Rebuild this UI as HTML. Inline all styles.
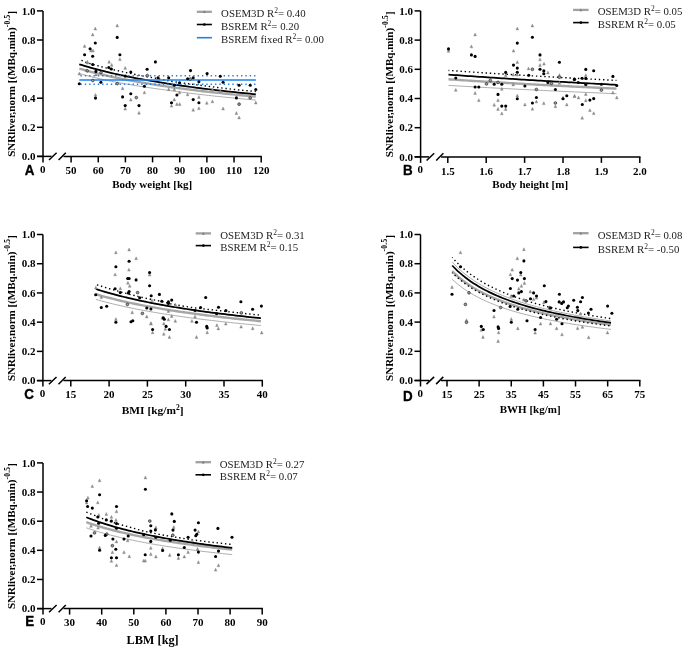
<!DOCTYPE html>
<html><head><meta charset="utf-8"><style>
html,body{margin:0;padding:0;background:#fff;width:685px;height:651px;overflow:hidden}
svg{display:block;will-change:transform;filter:blur(0.3px)}
</style></head><body>
<svg width="685" height="651" viewBox="0 0 685 651"><path d="M43.0 10.90V162.40" stroke="#000" stroke-width="1.5" fill="none"/>
<path d="M37.00 156.40H43.0" stroke="#000" stroke-width="1.5"/>
<text x="35.50" y="160.10" text-anchor="end" font-family='"Liberation Serif", serif' font-weight="bold" font-size="11">0.0</text>
<path d="M37.00 127.30H43.0" stroke="#000" stroke-width="1.5"/>
<text x="35.50" y="131.00" text-anchor="end" font-family='"Liberation Serif", serif' font-weight="bold" font-size="11">0.2</text>
<path d="M37.00 98.20H43.0" stroke="#000" stroke-width="1.5"/>
<text x="35.50" y="101.90" text-anchor="end" font-family='"Liberation Serif", serif' font-weight="bold" font-size="11">0.4</text>
<path d="M37.00 69.10H43.0" stroke="#000" stroke-width="1.5"/>
<text x="35.50" y="72.80" text-anchor="end" font-family='"Liberation Serif", serif' font-weight="bold" font-size="11">0.6</text>
<path d="M37.00 40.00H43.0" stroke="#000" stroke-width="1.5"/>
<text x="35.50" y="43.70" text-anchor="end" font-family='"Liberation Serif", serif' font-weight="bold" font-size="11">0.8</text>
<path d="M37.00 10.90H43.0" stroke="#000" stroke-width="1.5"/>
<text x="35.50" y="14.60" text-anchor="end" font-family='"Liberation Serif", serif' font-weight="bold" font-size="11">1.0</text>
<path d="M37.00 156.40H51.50" stroke="#000" stroke-width="1.5"/>
<path d="M49.00 160.00L56.60 152.80" stroke="#000" stroke-width="1.5"/>
<path d="M58.60 160.00L65.80 152.80" stroke="#000" stroke-width="1.5"/>
<path d="M63.50 156.40H261.90" stroke="#000" stroke-width="1.5"/>
<text x="42.70" y="172.60" text-anchor="middle" font-family='"Liberation Serif", serif' font-weight="bold" font-size="11">0</text>
<path d="M71.10 156.40V162.40" stroke="#000" stroke-width="1.5"/>
<text x="71.10" y="174.00" text-anchor="middle" font-family='"Liberation Serif", serif' font-weight="bold" font-size="11">50</text>
<path d="M98.26 156.40V162.40" stroke="#000" stroke-width="1.5"/>
<text x="98.26" y="174.00" text-anchor="middle" font-family='"Liberation Serif", serif' font-weight="bold" font-size="11">60</text>
<path d="M125.41 156.40V162.40" stroke="#000" stroke-width="1.5"/>
<text x="125.41" y="174.00" text-anchor="middle" font-family='"Liberation Serif", serif' font-weight="bold" font-size="11">70</text>
<path d="M152.57 156.40V162.40" stroke="#000" stroke-width="1.5"/>
<text x="152.57" y="174.00" text-anchor="middle" font-family='"Liberation Serif", serif' font-weight="bold" font-size="11">80</text>
<path d="M179.73 156.40V162.40" stroke="#000" stroke-width="1.5"/>
<text x="179.73" y="174.00" text-anchor="middle" font-family='"Liberation Serif", serif' font-weight="bold" font-size="11">90</text>
<path d="M206.89 156.40V162.40" stroke="#000" stroke-width="1.5"/>
<text x="206.89" y="174.00" text-anchor="middle" font-family='"Liberation Serif", serif' font-weight="bold" font-size="11">100</text>
<path d="M234.04 156.40V162.40" stroke="#000" stroke-width="1.5"/>
<text x="234.04" y="174.00" text-anchor="middle" font-family='"Liberation Serif", serif' font-weight="bold" font-size="11">110</text>
<path d="M261.20 156.40V162.40" stroke="#000" stroke-width="1.5"/>
<text x="261.20" y="174.00" text-anchor="middle" font-family='"Liberation Serif", serif' font-weight="bold" font-size="11">120</text>
<text x="152.20" y="187.60" text-anchor="middle" font-family='"Liberation Serif", serif' font-weight="bold" font-size="11">Body weight [kg]</text>
<text transform="translate(34.50,175.00) scale(0.9,1)" text-anchor="end" font-family='"Liberation Sans", sans-serif' font-weight="bold" font-size="14.9" stroke="#000" stroke-width="0.35">A</text>
<text transform="translate(15.20,156.80) rotate(-90)" font-family='"Liberation Serif", serif' font-weight="bold" font-size="11.0">SNRliver,norm [(MBq.min)<tspan dy="-5.3" font-size="7.4" letter-spacing="0.3">-0.5</tspan><tspan dy="5.3">]</tspan></text>
<path d="M196.8 11.8H211.9" stroke="#a0a0a0" stroke-width="2.3"/>
<path d="M203.05 13.10L204.35 10.30L205.65 13.10Z" fill="#7a7a7a"/>
<text x="221.1" y="17.30" font-family='"Liberation Serif", serif' font-size="10.8" fill="#222">OSEM3D R<tspan dy="-4" font-size="7.5">2</tspan><tspan dy="4">= 0.40</tspan></text>
<path d="M196.8 24.5H211.9" stroke="#000" stroke-width="1.6"/>
<circle cx="204.35" cy="24.5" r="1.35" fill="#000"/>
<text x="221.1" y="30.00" font-family='"Liberation Serif", serif' font-size="10.8" fill="#222">BSREM R<tspan dy="-4" font-size="7.5">2</tspan><tspan dy="4">= 0.20</tspan></text>
<path d="M196.8 37.7H211.9" stroke="#1f80e8" stroke-width="1.6"/>
<text x="221.1" y="43.20" font-family='"Liberation Serif", serif' font-size="10.8" fill="#222">BSREM fixed R<tspan dy="-4" font-size="7.5">2</tspan><tspan dy="4">= 0.00</tspan></text>
<path d="M420.6 10.90V162.90" stroke="#000" stroke-width="1.5" fill="none"/>
<path d="M414.60 156.90H420.6" stroke="#000" stroke-width="1.5"/>
<text x="413.10" y="160.60" text-anchor="end" font-family='"Liberation Serif", serif' font-weight="bold" font-size="11">0.0</text>
<path d="M414.60 127.70H420.6" stroke="#000" stroke-width="1.5"/>
<text x="413.10" y="131.40" text-anchor="end" font-family='"Liberation Serif", serif' font-weight="bold" font-size="11">0.2</text>
<path d="M414.60 98.50H420.6" stroke="#000" stroke-width="1.5"/>
<text x="413.10" y="102.20" text-anchor="end" font-family='"Liberation Serif", serif' font-weight="bold" font-size="11">0.4</text>
<path d="M414.60 69.30H420.6" stroke="#000" stroke-width="1.5"/>
<text x="413.10" y="73.00" text-anchor="end" font-family='"Liberation Serif", serif' font-weight="bold" font-size="11">0.6</text>
<path d="M414.60 40.10H420.6" stroke="#000" stroke-width="1.5"/>
<text x="413.10" y="43.80" text-anchor="end" font-family='"Liberation Serif", serif' font-weight="bold" font-size="11">0.8</text>
<path d="M414.60 10.90H420.6" stroke="#000" stroke-width="1.5"/>
<text x="413.10" y="14.60" text-anchor="end" font-family='"Liberation Serif", serif' font-weight="bold" font-size="11">1.0</text>
<path d="M414.60 156.90H429.10" stroke="#000" stroke-width="1.5"/>
<path d="M426.60 160.50L434.20 153.30" stroke="#000" stroke-width="1.5"/>
<path d="M436.20 160.50L443.40 153.30" stroke="#000" stroke-width="1.5"/>
<path d="M441.10 156.90H640.50" stroke="#000" stroke-width="1.5"/>
<text x="420.30" y="173.10" text-anchor="middle" font-family='"Liberation Serif", serif' font-weight="bold" font-size="11">0</text>
<path d="M447.80 156.90V162.90" stroke="#000" stroke-width="1.5"/>
<text x="447.80" y="174.50" text-anchor="middle" font-family='"Liberation Serif", serif' font-weight="bold" font-size="11">1.5</text>
<path d="M486.20 156.90V162.90" stroke="#000" stroke-width="1.5"/>
<text x="486.20" y="174.50" text-anchor="middle" font-family='"Liberation Serif", serif' font-weight="bold" font-size="11">1.6</text>
<path d="M524.60 156.90V162.90" stroke="#000" stroke-width="1.5"/>
<text x="524.60" y="174.50" text-anchor="middle" font-family='"Liberation Serif", serif' font-weight="bold" font-size="11">1.7</text>
<path d="M563.00 156.90V162.90" stroke="#000" stroke-width="1.5"/>
<text x="563.00" y="174.50" text-anchor="middle" font-family='"Liberation Serif", serif' font-weight="bold" font-size="11">1.8</text>
<path d="M601.40 156.90V162.90" stroke="#000" stroke-width="1.5"/>
<text x="601.40" y="174.50" text-anchor="middle" font-family='"Liberation Serif", serif' font-weight="bold" font-size="11">1.9</text>
<path d="M639.80 156.90V162.90" stroke="#000" stroke-width="1.5"/>
<text x="639.80" y="174.50" text-anchor="middle" font-family='"Liberation Serif", serif' font-weight="bold" font-size="11">2.0</text>
<text x="530.20" y="188.40" text-anchor="middle" font-family='"Liberation Serif", serif' font-weight="bold" font-size="11">Body height [m]</text>
<text transform="translate(412.60,174.60) scale(0.9,1)" text-anchor="end" font-family='"Liberation Sans", sans-serif' font-weight="bold" font-size="14.9" stroke="#000" stroke-width="0.35">B</text>
<text transform="translate(392.80,157.30) rotate(-90)" font-family='"Liberation Serif", serif' font-weight="bold" font-size="11.0">SNRliver,norm [(MBq.min)<tspan dy="-5.3" font-size="7.4" letter-spacing="0.3">-0.5</tspan><tspan dy="5.3">]</tspan></text>
<path d="M573.1 9.9H588.6" stroke="#a0a0a0" stroke-width="2.3"/>
<path d="M579.55 11.20L580.85 8.40L582.15 11.20Z" fill="#7a7a7a"/>
<text x="597.8" y="15.40" font-family='"Liberation Serif", serif' font-size="10.8" fill="#222">OSEM3D R<tspan dy="-4" font-size="7.5">2</tspan><tspan dy="4">= 0.05</tspan></text>
<path d="M573.1 22.6H588.6" stroke="#000" stroke-width="1.6"/>
<circle cx="580.85" cy="22.6" r="1.35" fill="#000"/>
<text x="597.8" y="28.10" font-family='"Liberation Serif", serif' font-size="10.8" fill="#222">BSREM R<tspan dy="-4" font-size="7.5">2</tspan><tspan dy="4">= 0.05</tspan></text>
<path d="M42.9 234.50V386.60" stroke="#000" stroke-width="1.5" fill="none"/>
<path d="M36.90 380.60H42.9" stroke="#000" stroke-width="1.5"/>
<text x="35.40" y="384.30" text-anchor="end" font-family='"Liberation Serif", serif' font-weight="bold" font-size="11">0.0</text>
<path d="M36.90 351.38H42.9" stroke="#000" stroke-width="1.5"/>
<text x="35.40" y="355.08" text-anchor="end" font-family='"Liberation Serif", serif' font-weight="bold" font-size="11">0.2</text>
<path d="M36.90 322.16H42.9" stroke="#000" stroke-width="1.5"/>
<text x="35.40" y="325.86" text-anchor="end" font-family='"Liberation Serif", serif' font-weight="bold" font-size="11">0.4</text>
<path d="M36.90 292.94H42.9" stroke="#000" stroke-width="1.5"/>
<text x="35.40" y="296.64" text-anchor="end" font-family='"Liberation Serif", serif' font-weight="bold" font-size="11">0.6</text>
<path d="M36.90 263.72H42.9" stroke="#000" stroke-width="1.5"/>
<text x="35.40" y="267.42" text-anchor="end" font-family='"Liberation Serif", serif' font-weight="bold" font-size="11">0.8</text>
<path d="M36.90 234.50H42.9" stroke="#000" stroke-width="1.5"/>
<text x="35.40" y="238.20" text-anchor="end" font-family='"Liberation Serif", serif' font-weight="bold" font-size="11">1.0</text>
<path d="M36.90 380.60H51.40" stroke="#000" stroke-width="1.5"/>
<path d="M48.90 384.20L56.50 377.00" stroke="#000" stroke-width="1.5"/>
<path d="M58.50 384.20L65.70 377.00" stroke="#000" stroke-width="1.5"/>
<path d="M63.40 380.60H263.00" stroke="#000" stroke-width="1.5"/>
<text x="42.60" y="396.80" text-anchor="middle" font-family='"Liberation Serif", serif' font-weight="bold" font-size="11">0</text>
<path d="M70.80 380.60V386.60" stroke="#000" stroke-width="1.5"/>
<text x="70.80" y="398.20" text-anchor="middle" font-family='"Liberation Serif", serif' font-weight="bold" font-size="11">15</text>
<path d="M109.10 380.60V386.60" stroke="#000" stroke-width="1.5"/>
<text x="109.10" y="398.20" text-anchor="middle" font-family='"Liberation Serif", serif' font-weight="bold" font-size="11">20</text>
<path d="M147.40 380.60V386.60" stroke="#000" stroke-width="1.5"/>
<text x="147.40" y="398.20" text-anchor="middle" font-family='"Liberation Serif", serif' font-weight="bold" font-size="11">25</text>
<path d="M185.70 380.60V386.60" stroke="#000" stroke-width="1.5"/>
<text x="185.70" y="398.20" text-anchor="middle" font-family='"Liberation Serif", serif' font-weight="bold" font-size="11">30</text>
<path d="M224.00 380.60V386.60" stroke="#000" stroke-width="1.5"/>
<text x="224.00" y="398.20" text-anchor="middle" font-family='"Liberation Serif", serif' font-weight="bold" font-size="11">35</text>
<path d="M262.30 380.60V386.60" stroke="#000" stroke-width="1.5"/>
<text x="262.30" y="398.20" text-anchor="middle" font-family='"Liberation Serif", serif' font-weight="bold" font-size="11">40</text>
<text x="152.60" y="413.90" text-anchor="middle" font-family='"Liberation Serif", serif' font-weight="bold" font-size="11.4">BMI [kg/m<tspan dy="-4" font-size="7.5">2</tspan><tspan dy="4">]</tspan></text>
<text transform="translate(34.00,398.60) scale(0.9,1)" text-anchor="end" font-family='"Liberation Sans", sans-serif' font-weight="bold" font-size="14.9" stroke="#000" stroke-width="0.35">C</text>
<text transform="translate(15.10,381.00) rotate(-90)" font-family='"Liberation Serif", serif' font-weight="bold" font-size="11.0">SNRliver,norm [(MBq.min)<tspan dy="-5.3" font-size="7.4" letter-spacing="0.3">-0.5</tspan><tspan dy="5.3">]</tspan></text>
<path d="M195.7 233.4H211.0" stroke="#a0a0a0" stroke-width="2.3"/>
<path d="M202.05 234.70L203.35 231.90L204.65 234.70Z" fill="#7a7a7a"/>
<text x="220.2" y="238.90" font-family='"Liberation Serif", serif' font-size="10.8" fill="#222">OSEM3D R<tspan dy="-4" font-size="7.5">2</tspan><tspan dy="4">= 0.31</tspan></text>
<path d="M195.7 245.6H211.0" stroke="#000" stroke-width="1.6"/>
<circle cx="203.35" cy="245.6" r="1.35" fill="#000"/>
<text x="220.2" y="251.10" font-family='"Liberation Serif", serif' font-size="10.8" fill="#222">BSREM R<tspan dy="-4" font-size="7.5">2</tspan><tspan dy="4">= 0.15</tspan></text>
<path d="M420.5 234.50V386.50" stroke="#000" stroke-width="1.5" fill="none"/>
<path d="M414.50 380.50H420.5" stroke="#000" stroke-width="1.5"/>
<text x="413.00" y="384.20" text-anchor="end" font-family='"Liberation Serif", serif' font-weight="bold" font-size="11">0.0</text>
<path d="M414.50 351.30H420.5" stroke="#000" stroke-width="1.5"/>
<text x="413.00" y="355.00" text-anchor="end" font-family='"Liberation Serif", serif' font-weight="bold" font-size="11">0.2</text>
<path d="M414.50 322.10H420.5" stroke="#000" stroke-width="1.5"/>
<text x="413.00" y="325.80" text-anchor="end" font-family='"Liberation Serif", serif' font-weight="bold" font-size="11">0.4</text>
<path d="M414.50 292.90H420.5" stroke="#000" stroke-width="1.5"/>
<text x="413.00" y="296.60" text-anchor="end" font-family='"Liberation Serif", serif' font-weight="bold" font-size="11">0.6</text>
<path d="M414.50 263.70H420.5" stroke="#000" stroke-width="1.5"/>
<text x="413.00" y="267.40" text-anchor="end" font-family='"Liberation Serif", serif' font-weight="bold" font-size="11">0.8</text>
<path d="M414.50 234.50H420.5" stroke="#000" stroke-width="1.5"/>
<text x="413.00" y="238.20" text-anchor="end" font-family='"Liberation Serif", serif' font-weight="bold" font-size="11">1.0</text>
<path d="M414.50 380.50H429.00" stroke="#000" stroke-width="1.5"/>
<path d="M426.50 384.10L434.10 376.90" stroke="#000" stroke-width="1.5"/>
<path d="M436.10 384.10L443.30 376.90" stroke="#000" stroke-width="1.5"/>
<path d="M441.00 380.50H640.50" stroke="#000" stroke-width="1.5"/>
<text x="420.20" y="396.70" text-anchor="middle" font-family='"Liberation Serif", serif' font-weight="bold" font-size="11">0</text>
<path d="M447.00 380.50V386.50" stroke="#000" stroke-width="1.5"/>
<text x="447.00" y="398.10" text-anchor="middle" font-family='"Liberation Serif", serif' font-weight="bold" font-size="11">15</text>
<path d="M479.13 380.50V386.50" stroke="#000" stroke-width="1.5"/>
<text x="479.13" y="398.10" text-anchor="middle" font-family='"Liberation Serif", serif' font-weight="bold" font-size="11">25</text>
<path d="M511.27 380.50V386.50" stroke="#000" stroke-width="1.5"/>
<text x="511.27" y="398.10" text-anchor="middle" font-family='"Liberation Serif", serif' font-weight="bold" font-size="11">35</text>
<path d="M543.40 380.50V386.50" stroke="#000" stroke-width="1.5"/>
<text x="543.40" y="398.10" text-anchor="middle" font-family='"Liberation Serif", serif' font-weight="bold" font-size="11">45</text>
<path d="M575.53 380.50V386.50" stroke="#000" stroke-width="1.5"/>
<text x="575.53" y="398.10" text-anchor="middle" font-family='"Liberation Serif", serif' font-weight="bold" font-size="11">55</text>
<path d="M607.67 380.50V386.50" stroke="#000" stroke-width="1.5"/>
<text x="607.67" y="398.10" text-anchor="middle" font-family='"Liberation Serif", serif' font-weight="bold" font-size="11">65</text>
<path d="M639.80 380.50V386.50" stroke="#000" stroke-width="1.5"/>
<text x="639.80" y="398.10" text-anchor="middle" font-family='"Liberation Serif", serif' font-weight="bold" font-size="11">75</text>
<text x="530.15" y="412.90" text-anchor="middle" font-family='"Liberation Serif", serif' font-weight="bold" font-size="11">BWH [kg/m]</text>
<text transform="translate(412.60,400.50) scale(0.9,1)" text-anchor="end" font-family='"Liberation Sans", sans-serif' font-weight="bold" font-size="14.9" stroke="#000" stroke-width="0.35">D</text>
<text transform="translate(392.70,380.90) rotate(-90)" font-family='"Liberation Serif", serif' font-weight="bold" font-size="11.0">SNRliver,norm [(MBq.min)<tspan dy="-5.3" font-size="7.4" letter-spacing="0.3">-0.5</tspan><tspan dy="5.3">]</tspan></text>
<path d="M573.1 233.2H588.6" stroke="#a0a0a0" stroke-width="2.3"/>
<path d="M579.55 234.50L580.85 231.70L582.15 234.50Z" fill="#7a7a7a"/>
<text x="597.8" y="238.70" font-family='"Liberation Serif", serif' font-size="10.8" fill="#222">OSEM3D R<tspan dy="-4" font-size="7.5">2</tspan><tspan dy="4">= 0.08</tspan></text>
<path d="M573.1 247.4H588.6" stroke="#000" stroke-width="1.6"/>
<circle cx="580.85" cy="247.4" r="1.35" fill="#000"/>
<text x="597.8" y="252.90" font-family='"Liberation Serif", serif' font-size="10.8" fill="#222">BSREM R<tspan dy="-4" font-size="7.5">2</tspan><tspan dy="4">= -0.50</tspan></text>
<path d="M43.0 462.90V614.60" stroke="#000" stroke-width="1.5" fill="none"/>
<path d="M37.00 608.60H43.0" stroke="#000" stroke-width="1.5"/>
<text x="35.50" y="612.30" text-anchor="end" font-family='"Liberation Serif", serif' font-weight="bold" font-size="11">0.0</text>
<path d="M37.00 579.46H43.0" stroke="#000" stroke-width="1.5"/>
<text x="35.50" y="583.16" text-anchor="end" font-family='"Liberation Serif", serif' font-weight="bold" font-size="11">0.2</text>
<path d="M37.00 550.32H43.0" stroke="#000" stroke-width="1.5"/>
<text x="35.50" y="554.02" text-anchor="end" font-family='"Liberation Serif", serif' font-weight="bold" font-size="11">0.4</text>
<path d="M37.00 521.18H43.0" stroke="#000" stroke-width="1.5"/>
<text x="35.50" y="524.88" text-anchor="end" font-family='"Liberation Serif", serif' font-weight="bold" font-size="11">0.6</text>
<path d="M37.00 492.04H43.0" stroke="#000" stroke-width="1.5"/>
<text x="35.50" y="495.74" text-anchor="end" font-family='"Liberation Serif", serif' font-weight="bold" font-size="11">0.8</text>
<path d="M37.00 462.90H43.0" stroke="#000" stroke-width="1.5"/>
<text x="35.50" y="466.60" text-anchor="end" font-family='"Liberation Serif", serif' font-weight="bold" font-size="11">1.0</text>
<path d="M37.00 608.60H51.50" stroke="#000" stroke-width="1.5"/>
<path d="M49.00 612.20L56.60 605.00" stroke="#000" stroke-width="1.5"/>
<path d="M58.60 612.20L65.80 605.00" stroke="#000" stroke-width="1.5"/>
<path d="M63.50 608.60H262.90" stroke="#000" stroke-width="1.5"/>
<text x="42.70" y="624.80" text-anchor="middle" font-family='"Liberation Serif", serif' font-weight="bold" font-size="11">0</text>
<path d="M69.60 608.60V614.60" stroke="#000" stroke-width="1.5"/>
<text x="69.60" y="626.20" text-anchor="middle" font-family='"Liberation Serif", serif' font-weight="bold" font-size="11">30</text>
<path d="M101.70 608.60V614.60" stroke="#000" stroke-width="1.5"/>
<text x="101.70" y="626.20" text-anchor="middle" font-family='"Liberation Serif", serif' font-weight="bold" font-size="11">40</text>
<path d="M133.80 608.60V614.60" stroke="#000" stroke-width="1.5"/>
<text x="133.80" y="626.20" text-anchor="middle" font-family='"Liberation Serif", serif' font-weight="bold" font-size="11">50</text>
<path d="M165.90 608.60V614.60" stroke="#000" stroke-width="1.5"/>
<text x="165.90" y="626.20" text-anchor="middle" font-family='"Liberation Serif", serif' font-weight="bold" font-size="11">60</text>
<path d="M198.00 608.60V614.60" stroke="#000" stroke-width="1.5"/>
<text x="198.00" y="626.20" text-anchor="middle" font-family='"Liberation Serif", serif' font-weight="bold" font-size="11">70</text>
<path d="M230.10 608.60V614.60" stroke="#000" stroke-width="1.5"/>
<text x="230.10" y="626.20" text-anchor="middle" font-family='"Liberation Serif", serif' font-weight="bold" font-size="11">80</text>
<path d="M262.20 608.60V614.60" stroke="#000" stroke-width="1.5"/>
<text x="262.20" y="626.20" text-anchor="middle" font-family='"Liberation Serif", serif' font-weight="bold" font-size="11">90</text>
<text x="152.60" y="644.20" text-anchor="middle" font-family='"Liberation Serif", serif' font-weight="bold" font-size="12.3">LBM [kg]</text>
<text transform="translate(34.20,626.20) scale(0.9,1)" text-anchor="end" font-family='"Liberation Sans", sans-serif' font-weight="bold" font-size="14.9" stroke="#000" stroke-width="0.35">E</text>
<text transform="translate(15.20,609.00) rotate(-90)" font-family='"Liberation Serif", serif' font-weight="bold" font-size="11.0">SNRliver,norm [(MBq.min)<tspan dy="-5.3" font-size="7.4" letter-spacing="0.3">-0.5</tspan><tspan dy="5.3">]</tspan></text>
<path d="M195.5 462.2H211.0" stroke="#a0a0a0" stroke-width="2.3"/>
<path d="M201.95 463.50L203.25 460.70L204.55 463.50Z" fill="#7a7a7a"/>
<text x="219.8" y="467.70" font-family='"Liberation Serif", serif' font-size="10.8" fill="#222">OSEM3D R<tspan dy="-4" font-size="7.5">2</tspan><tspan dy="4">= 0.27</tspan></text>
<path d="M195.5 474.8H211.0" stroke="#000" stroke-width="1.6"/>
<circle cx="203.25" cy="474.8" r="1.35" fill="#000"/>
<text x="219.8" y="480.30" font-family='"Liberation Serif", serif' font-size="10.8" fill="#222">BSREM R<tspan dy="-4" font-size="7.5">2</tspan><tspan dy="4">= 0.07</tspan></text>
<path d="M79.30 73.50 L82.24 74.35 L85.18 75.16 L88.12 75.94 L91.07 76.70 L94.01 77.43 L96.95 78.14 L99.89 78.82 L102.83 79.48 L105.78 80.11 L108.72 80.73 L111.66 81.33 L114.60 81.91 L117.54 82.47 L120.48 83.02 L123.42 83.55 L126.37 84.07 L129.31 84.57 L132.25 85.06 L135.19 85.54 L138.13 86.01 L141.07 86.47 L144.02 86.92 L146.96 87.36 L149.90 87.79 L152.84 88.22 L155.78 88.64 L158.72 89.05 L161.67 89.46 L164.61 89.86 L167.55 90.26 L170.49 90.66 L173.43 91.06 L176.38 91.45 L179.32 91.84 L182.26 92.23 L185.20 92.61 L188.14 92.99 L191.08 93.36 L194.02 93.72 L196.97 94.07 L199.91 94.42 L202.85 94.76 L205.79 95.10 L208.73 95.43 L211.68 95.76 L214.62 96.08 L217.56 96.39 L220.50 96.70 L223.44 97.01 L226.38 97.31 L229.32 97.60 L232.27 97.89 L235.21 98.18 L238.15 98.47 L241.09 98.75 L244.03 99.02 L246.98 99.30 L249.92 99.57 L252.86 99.84 L255.80 100.10" stroke="#a4a4a4" stroke-width="0.9" fill="none"/>
<path d="M79.30 64.40 L82.24 65.25 L85.18 66.08 L88.12 66.90 L91.07 67.69 L94.01 68.47 L96.95 69.24 L99.89 69.98 L102.83 70.72 L105.78 71.43 L108.72 72.14 L111.66 72.83 L114.60 73.50 L117.54 74.17 L120.48 74.82 L123.42 75.45 L126.37 76.08 L129.31 76.69 L132.25 77.29 L135.19 77.88 L138.13 78.45 L141.07 79.02 L144.02 79.57 L146.96 80.11 L149.90 80.63 L152.84 81.15 L155.78 81.65 L158.72 82.14 L161.67 82.62 L164.61 83.09 L167.55 83.54 L170.49 83.99 L173.43 84.42 L176.38 84.83 L179.32 85.24 L182.26 85.63 L185.20 86.02 L188.14 86.41 L191.08 86.80 L194.02 87.18 L196.97 87.57 L199.91 87.95 L202.85 88.33 L205.79 88.71 L208.73 89.08 L211.68 89.45 L214.62 89.82 L217.56 90.18 L220.50 90.53 L223.44 90.89 L226.38 91.23 L229.32 91.57 L232.27 91.91 L235.21 92.23 L238.15 92.55 L241.09 92.87 L244.03 93.17 L246.98 93.47 L249.92 93.75 L252.86 94.03 L255.80 94.30" stroke="#a4a4a4" stroke-width="0.9" fill="none"/>
<path d="M79.30 68.60 L82.24 69.45 L85.18 70.27 L88.12 71.07 L91.07 71.85 L94.01 72.60 L96.95 73.34 L99.89 74.06 L102.83 74.75 L105.78 75.43 L108.72 76.10 L111.66 76.74 L114.60 77.37 L117.54 77.99 L120.48 78.59 L123.42 79.17 L126.37 79.75 L129.31 80.31 L132.25 80.85 L135.19 81.39 L138.13 81.91 L141.07 82.43 L144.02 82.93 L146.96 83.42 L149.90 83.90 L152.84 84.38 L155.78 84.84 L158.72 85.29 L161.67 85.74 L164.61 86.17 L167.55 86.60 L170.49 87.02 L173.43 87.44 L176.38 87.84 L179.32 88.24 L182.26 88.63 L185.20 89.01 L188.14 89.39 L191.08 89.76 L194.02 90.13 L196.97 90.49 L199.91 90.84 L202.85 91.19 L205.79 91.53 L208.73 91.86 L211.68 92.19 L214.62 92.52 L217.56 92.84 L220.50 93.15 L223.44 93.47 L226.38 93.77 L229.32 94.07 L232.27 94.37 L235.21 94.66 L238.15 94.95 L241.09 95.24 L244.03 95.52 L246.98 95.79 L249.92 96.07 L252.86 96.33 L255.80 96.60" stroke="#a6a6a6" stroke-width="2.4" fill="none"/>
<path d="M79.30 59.50 L82.24 60.71 L85.18 62.07 L88.12 63.06 L91.07 63.91 L94.01 64.75 L96.95 65.57 L99.89 66.36 L102.83 67.12 L105.78 67.85 L108.72 68.57 L111.66 69.28 L114.60 69.97 L117.54 70.65 L120.48 71.32 L123.42 71.98 L126.37 72.62 L129.31 73.24 L132.25 73.86 L135.19 74.46 L138.13 75.04 L141.07 75.61 L144.02 76.17 L146.96 76.71 L149.90 77.23 L152.84 77.74 L155.78 78.27 L158.72 78.84 L161.67 79.41 L164.61 79.99 L167.55 80.55 L170.49 81.09 L173.43 81.60 L176.38 82.05 L179.32 82.47 L182.26 82.89 L185.20 83.30 L188.14 83.71 L191.08 84.10 L194.02 84.49 L196.97 84.88 L199.91 85.25 L202.85 85.62 L205.79 85.99 L208.73 86.35 L211.68 86.72 L214.62 87.09 L217.56 87.46 L220.50 87.83 L223.44 88.19 L226.38 88.55 L229.32 88.89 L232.27 89.22 L235.21 89.53 L238.15 89.83 L241.09 90.12 L244.03 90.40 L246.98 90.68 L249.92 90.95 L252.86 91.22 L255.80 91.50" stroke="#000" stroke-width="1.4" stroke-dasharray="1.4 2.8" stroke-dashoffset="-2.3" fill="none"/>
<path d="M79.30 64.30 L82.24 65.21 L85.18 66.10 L88.12 66.96 L91.07 67.80 L94.01 68.61 L96.95 69.40 L99.89 70.17 L102.83 70.92 L105.78 71.65 L108.72 72.36 L111.66 73.05 L114.60 73.73 L117.54 74.39 L120.48 75.03 L123.42 75.66 L126.37 76.28 L129.31 76.88 L132.25 77.47 L135.19 78.04 L138.13 78.60 L141.07 79.15 L144.02 79.69 L146.96 80.22 L149.90 80.73 L152.84 81.24 L155.78 81.73 L158.72 82.22 L161.67 82.70 L164.61 83.16 L167.55 83.62 L170.49 84.07 L173.43 84.51 L176.38 84.95 L179.32 85.37 L182.26 85.79 L185.20 86.20 L188.14 86.61 L191.08 87.00 L194.02 87.39 L196.97 87.78 L199.91 88.15 L202.85 88.52 L205.79 88.89 L208.73 89.25 L211.68 89.60 L214.62 89.95 L217.56 90.29 L220.50 90.63 L223.44 90.96 L226.38 91.28 L229.32 91.61 L232.27 91.92 L235.21 92.24 L238.15 92.54 L241.09 92.85 L244.03 93.15 L246.98 93.44 L249.92 93.73 L252.86 94.02 L255.80 94.30" stroke="#000" stroke-width="1.75" fill="none"/>
<path d="M79.3 75.85H255.9" stroke="#1f80e8" stroke-width="1.5" stroke-dasharray="1.4 2.94" stroke-dashoffset="-1.13" fill="none"/>
<path d="M79.3 84.2H255.9" stroke="#1f80e8" stroke-width="1.5" stroke-dasharray="1.4 2.94" stroke-dashoffset="-1.13" fill="none"/>
<path d="M79.3 80.0H255.9" stroke="#1f80e8" stroke-width="1.7" fill="none"/>
<path d="M93.95 30.00L95.30 27.10L96.65 30.00Z" fill="#8e8e8e" stroke="#838383" stroke-width="0.4"/>
<path d="M91.35 35.90L92.70 33.00L94.05 35.90Z" fill="#8e8e8e" stroke="#838383" stroke-width="0.4"/>
<path d="M83.25 47.40L84.60 44.50L85.95 47.40Z" fill="#8e8e8e" stroke="#838383" stroke-width="0.4"/>
<path d="M89.65 52.00L91.00 49.10L92.35 52.00Z" fill="#8e8e8e" stroke="#838383" stroke-width="0.4"/>
<path d="M91.65 52.00L93.00 49.10L94.35 52.00Z" fill="#8e8e8e" stroke="#838383" stroke-width="0.4"/>
<path d="M115.85 26.90L117.20 24.00L118.55 26.90Z" fill="#8e8e8e" stroke="#838383" stroke-width="0.4"/>
<path d="M118.55 60.60L119.90 57.70L121.25 60.60Z" fill="#8e8e8e" stroke="#838383" stroke-width="0.4"/>
<path d="M107.75 63.20L109.10 60.30L110.45 63.20Z" fill="#8e8e8e" stroke="#838383" stroke-width="0.4"/>
<path d="M110.35 66.30L111.70 63.40L113.05 66.30Z" fill="#8e8e8e" stroke="#838383" stroke-width="0.4"/>
<path d="M123.85 69.30L125.20 66.40L126.55 69.30Z" fill="#8e8e8e" stroke="#838383" stroke-width="0.4"/>
<path d="M86.05 63.20L87.40 60.30L88.75 63.20Z" fill="#8e8e8e" stroke="#838383" stroke-width="0.4"/>
<path d="M77.95 75.00L79.30 72.10L80.65 75.00Z" fill="#8e8e8e" stroke="#838383" stroke-width="0.4"/>
<path d="M121.25 89.70L122.60 86.80L123.95 89.70Z" fill="#8e8e8e" stroke="#838383" stroke-width="0.4"/>
<path d="M94.15 96.30L95.50 93.40L96.85 96.30Z" fill="#8e8e8e" stroke="#838383" stroke-width="0.4"/>
<path d="M129.45 101.10L130.80 98.20L132.15 101.10Z" fill="#8e8e8e" stroke="#838383" stroke-width="0.4"/>
<path d="M123.85 110.10L125.20 107.20L126.55 110.10Z" fill="#8e8e8e" stroke="#838383" stroke-width="0.4"/>
<path d="M137.65 114.20L139.00 111.30L140.35 114.20Z" fill="#8e8e8e" stroke="#838383" stroke-width="0.4"/>
<path d="M143.05 93.80L144.40 90.90L145.75 93.80Z" fill="#8e8e8e" stroke="#838383" stroke-width="0.4"/>
<path d="M167.35 90.70L168.70 87.80L170.05 90.70Z" fill="#8e8e8e" stroke="#838383" stroke-width="0.4"/>
<path d="M172.95 90.70L174.30 87.80L175.65 90.70Z" fill="#8e8e8e" stroke="#838383" stroke-width="0.4"/>
<path d="M178.15 93.80L179.50 90.90L180.85 93.80Z" fill="#8e8e8e" stroke="#838383" stroke-width="0.4"/>
<path d="M186.25 95.80L187.60 92.90L188.95 95.80Z" fill="#8e8e8e" stroke="#838383" stroke-width="0.4"/>
<path d="M197.55 98.40L198.90 95.50L200.25 98.40Z" fill="#8e8e8e" stroke="#838383" stroke-width="0.4"/>
<path d="M197.55 109.60L198.90 106.70L200.25 109.60Z" fill="#8e8e8e" stroke="#838383" stroke-width="0.4"/>
<path d="M191.85 111.20L193.20 108.30L194.55 111.20Z" fill="#8e8e8e" stroke="#838383" stroke-width="0.4"/>
<path d="M172.95 100.90L174.30 98.00L175.65 100.90Z" fill="#8e8e8e" stroke="#838383" stroke-width="0.4"/>
<path d="M170.15 107.10L171.50 104.20L172.85 107.10Z" fill="#8e8e8e" stroke="#838383" stroke-width="0.4"/>
<path d="M175.55 105.50L176.90 102.60L178.25 105.50Z" fill="#8e8e8e" stroke="#838383" stroke-width="0.4"/>
<path d="M178.35 105.50L179.70 102.60L181.05 105.50Z" fill="#8e8e8e" stroke="#838383" stroke-width="0.4"/>
<path d="M205.45 104.30L206.80 101.40L208.15 104.30Z" fill="#8e8e8e" stroke="#838383" stroke-width="0.4"/>
<path d="M211.05 102.80L212.40 99.90L213.75 102.80Z" fill="#8e8e8e" stroke="#838383" stroke-width="0.4"/>
<path d="M221.75 109.90L223.10 107.00L224.45 109.90Z" fill="#8e8e8e" stroke="#838383" stroke-width="0.4"/>
<path d="M235.05 114.50L236.40 111.60L237.75 114.50Z" fill="#8e8e8e" stroke="#838383" stroke-width="0.4"/>
<path d="M237.75 118.90L239.10 116.00L240.45 118.90Z" fill="#8e8e8e" stroke="#838383" stroke-width="0.4"/>
<path d="M254.45 104.00L255.80 101.10L257.15 104.00Z" fill="#8e8e8e" stroke="#838383" stroke-width="0.4"/>
<path d="M211.05 91.00L212.40 88.10L213.75 91.00Z" fill="#8e8e8e" stroke="#838383" stroke-width="0.4"/>
<path d="M218.95 92.50L220.30 89.60L221.65 92.50Z" fill="#8e8e8e" stroke="#838383" stroke-width="0.4"/>
<path d="M94.55 75.90L95.90 73.00L97.25 75.90Z" fill="#8e8e8e" stroke="#838383" stroke-width="0.4"/>
<path d="M85.85 64.00L87.20 61.10L88.55 64.00Z" fill="#8e8e8e" stroke="#838383" stroke-width="0.4"/>
<circle cx="92.8" cy="80.5" r="1.35" fill="#9a9a9a" stroke="#3a3a3a" stroke-width="0.8"/>
<circle cx="117.2" cy="83.6" r="1.35" fill="#9a9a9a" stroke="#3a3a3a" stroke-width="0.8"/>
<circle cx="136.3" cy="97.6" r="1.35" fill="#9a9a9a" stroke="#3a3a3a" stroke-width="0.8"/>
<circle cx="147.3" cy="75.6" r="1.35" fill="#9a9a9a" stroke="#3a3a3a" stroke-width="0.8"/>
<circle cx="190.2" cy="79.2" r="1.35" fill="#9a9a9a" stroke="#3a3a3a" stroke-width="0.8"/>
<circle cx="239.1" cy="104.2" r="1.35" fill="#9a9a9a" stroke="#3a3a3a" stroke-width="0.8"/>
<circle cx="87.2" cy="70.8" r="1.35" fill="#9a9a9a" stroke="#3a3a3a" stroke-width="0.8"/>
<circle cx="250.2" cy="97.9" r="1.35" fill="#9a9a9a" stroke="#3a3a3a" stroke-width="0.8"/>
<circle cx="101" cy="72.5" r="1.35" fill="#9a9a9a" stroke="#3a3a3a" stroke-width="0.8"/>
<circle cx="95.3" cy="43.0" r="1.55" fill="#000"/>
<circle cx="90.1" cy="48.8" r="1.55" fill="#000"/>
<circle cx="84.6" cy="54.7" r="1.55" fill="#000"/>
<circle cx="92.7" cy="56.3" r="1.55" fill="#000"/>
<circle cx="117.2" cy="37.4" r="1.55" fill="#000"/>
<circle cx="119.9" cy="54.7" r="1.55" fill="#000"/>
<circle cx="108.8" cy="67.5" r="1.55" fill="#000"/>
<circle cx="111.4" cy="69.0" r="1.55" fill="#000"/>
<circle cx="130.8" cy="72.1" r="1.55" fill="#000"/>
<circle cx="92.7" cy="64.5" r="1.55" fill="#000"/>
<circle cx="79.3" cy="83.7" r="1.55" fill="#000"/>
<circle cx="100.9" cy="82.3" r="1.55" fill="#000"/>
<circle cx="95.5" cy="98.1" r="1.55" fill="#000"/>
<circle cx="122.6" cy="96.9" r="1.55" fill="#000"/>
<circle cx="130.8" cy="93.7" r="1.55" fill="#000"/>
<circle cx="125.2" cy="105.6" r="1.55" fill="#000"/>
<circle cx="139.0" cy="105.6" r="1.55" fill="#000"/>
<circle cx="125.2" cy="76.1" r="1.55" fill="#000"/>
<circle cx="155.4" cy="61.9" r="1.55" fill="#000"/>
<circle cx="147.1" cy="69.3" r="1.55" fill="#000"/>
<circle cx="190.5" cy="70.6" r="1.55" fill="#000"/>
<circle cx="158.0" cy="77.7" r="1.55" fill="#000"/>
<circle cx="168.7" cy="77.7" r="1.55" fill="#000"/>
<circle cx="187.6" cy="78.7" r="1.55" fill="#000"/>
<circle cx="193.2" cy="77.7" r="1.55" fill="#000"/>
<circle cx="144.4" cy="86.3" r="1.55" fill="#000"/>
<circle cx="179.5" cy="82.8" r="1.55" fill="#000"/>
<circle cx="174.3" cy="85.3" r="1.55" fill="#000"/>
<circle cx="198.9" cy="81.8" r="1.55" fill="#000"/>
<circle cx="176.9" cy="95.0" r="1.55" fill="#000"/>
<circle cx="193.2" cy="99.6" r="1.55" fill="#000"/>
<circle cx="198.9" cy="102.7" r="1.55" fill="#000"/>
<circle cx="171.5" cy="102.7" r="1.55" fill="#000"/>
<circle cx="207.1" cy="73.6" r="1.55" fill="#000"/>
<circle cx="220.3" cy="76.2" r="1.55" fill="#000"/>
<circle cx="223.1" cy="82.3" r="1.55" fill="#000"/>
<circle cx="239.1" cy="85.2" r="1.55" fill="#000"/>
<circle cx="250.2" cy="85.2" r="1.55" fill="#000"/>
<circle cx="255.8" cy="89.5" r="1.55" fill="#000"/>
<circle cx="236.4" cy="97.9" r="1.55" fill="#000"/>
<circle cx="95.9" cy="71.4" r="1.55" fill="#000"/>
<path d="M448.50 85.40 L451.30 85.57 L454.10 85.73 L456.90 85.90 L459.70 86.06 L462.50 86.22 L465.30 86.38 L468.10 86.54 L470.90 86.70 L473.70 86.86 L476.50 87.02 L479.30 87.17 L482.10 87.33 L484.90 87.48 L487.70 87.63 L490.50 87.79 L493.30 87.94 L496.10 88.09 L498.90 88.23 L501.70 88.38 L504.50 88.53 L507.30 88.67 L510.10 88.82 L512.90 88.96 L515.70 89.10 L518.50 89.25 L521.30 89.39 L524.10 89.53 L526.90 89.67 L529.70 89.80 L532.50 89.94 L535.30 90.08 L538.10 90.21 L540.90 90.35 L543.70 90.48 L546.50 90.62 L549.30 90.75 L552.10 90.88 L554.90 91.01 L557.70 91.14 L560.50 91.27 L563.30 91.40 L566.10 91.53 L568.90 91.65 L571.70 91.78 L574.50 91.90 L577.30 92.03 L580.10 92.15 L582.90 92.28 L585.70 92.40 L588.50 92.52 L591.30 92.64 L594.10 92.76 L596.90 92.88 L599.70 93.00 L602.50 93.12 L605.30 93.24 L608.10 93.35 L610.90 93.47 L613.70 93.58 L616.50 93.70" stroke="#a4a4a4" stroke-width="0.9" fill="none"/>
<path d="M448.50 74.50 L451.30 74.71 L454.10 74.91 L456.90 75.11 L459.70 75.32 L462.50 75.52 L465.30 75.71 L468.10 75.91 L470.90 76.11 L473.70 76.30 L476.50 76.49 L479.30 76.69 L482.10 76.88 L484.90 77.07 L487.70 77.25 L490.50 77.44 L493.30 77.63 L496.10 77.81 L498.90 77.99 L501.70 78.17 L504.50 78.35 L507.30 78.53 L510.10 78.71 L512.90 78.89 L515.70 79.06 L518.50 79.24 L521.30 79.41 L524.10 79.58 L526.90 79.75 L529.70 79.92 L532.50 80.09 L535.30 80.26 L538.10 80.43 L540.90 80.59 L543.70 80.76 L546.50 80.92 L549.30 81.08 L552.10 81.24 L554.90 81.40 L557.70 81.56 L560.50 81.72 L563.30 81.88 L566.10 82.04 L568.90 82.19 L571.70 82.35 L574.50 82.50 L577.30 82.65 L580.10 82.81 L582.90 82.96 L585.70 83.11 L588.50 83.26 L591.30 83.40 L594.10 83.55 L596.90 83.70 L599.70 83.84 L602.50 83.99 L605.30 84.13 L608.10 84.28 L610.90 84.42 L613.70 84.56 L616.50 84.70" stroke="#a4a4a4" stroke-width="0.9" fill="none"/>
<path d="M448.50 79.30 L451.30 79.49 L454.10 79.67 L456.90 79.86 L459.70 80.04 L462.50 80.22 L465.30 80.40 L468.10 80.58 L470.90 80.76 L473.70 80.94 L476.50 81.12 L479.30 81.29 L482.10 81.46 L484.90 81.64 L487.70 81.81 L490.50 81.98 L493.30 82.15 L496.10 82.31 L498.90 82.48 L501.70 82.64 L504.50 82.81 L507.30 82.97 L510.10 83.13 L512.90 83.30 L515.70 83.46 L518.50 83.61 L521.30 83.77 L524.10 83.93 L526.90 84.09 L529.70 84.24 L532.50 84.39 L535.30 84.55 L538.10 84.70 L540.90 84.85 L543.70 85.00 L546.50 85.15 L549.30 85.30 L552.10 85.44 L554.90 85.59 L557.70 85.74 L560.50 85.88 L563.30 86.02 L566.10 86.17 L568.90 86.31 L571.70 86.45 L574.50 86.59 L577.30 86.73 L580.10 86.87 L582.90 87.01 L585.70 87.14 L588.50 87.28 L591.30 87.42 L594.10 87.55 L596.90 87.68 L599.70 87.82 L602.50 87.95 L605.30 88.08 L608.10 88.21 L610.90 88.34 L613.70 88.47 L616.50 88.60" stroke="#a6a6a6" stroke-width="2.4" fill="none"/>
<path d="M448.50 70.40 L451.30 70.60 L454.10 70.80 L456.90 71.00 L459.70 71.20 L462.50 71.39 L465.30 71.59 L468.10 71.78 L470.90 71.97 L473.70 72.16 L476.50 72.35 L479.30 72.54 L482.10 72.72 L484.90 72.91 L487.70 73.09 L490.50 73.27 L493.30 73.45 L496.10 73.63 L498.90 73.81 L501.70 73.99 L504.50 74.17 L507.30 74.34 L510.10 74.52 L512.90 74.69 L515.70 74.86 L518.50 75.03 L521.30 75.20 L524.10 75.37 L526.90 75.54 L529.70 75.71 L532.50 75.87 L535.30 76.04 L538.10 76.20 L540.90 76.36 L543.70 76.52 L546.50 76.68 L549.30 76.84 L552.10 77.00 L554.90 77.16 L557.70 77.32 L560.50 77.47 L563.30 77.63 L566.10 77.78 L568.90 77.93 L571.70 78.08 L574.50 78.24 L577.30 78.39 L580.10 78.54 L582.90 78.68 L585.70 78.83 L588.50 78.98 L591.30 79.12 L594.10 79.27 L596.90 79.41 L599.70 79.56 L602.50 79.70 L605.30 79.84 L608.10 79.98 L610.90 80.12 L613.70 80.26 L616.50 80.40" stroke="#000" stroke-width="1.4" stroke-dasharray="1.4 2.8" stroke-dashoffset="0.6" fill="none"/>
<path d="M448.50 74.60 L451.30 74.81 L454.10 75.01 L456.90 75.21 L459.70 75.42 L462.50 75.62 L465.30 75.81 L468.10 76.01 L470.90 76.21 L473.70 76.40 L476.50 76.59 L479.30 76.79 L482.10 76.98 L484.90 77.17 L487.70 77.35 L490.50 77.54 L493.30 77.73 L496.10 77.91 L498.90 78.09 L501.70 78.27 L504.50 78.45 L507.30 78.63 L510.10 78.81 L512.90 78.99 L515.70 79.16 L518.50 79.34 L521.30 79.51 L524.10 79.68 L526.90 79.85 L529.70 80.02 L532.50 80.19 L535.30 80.36 L538.10 80.53 L540.90 80.69 L543.70 80.86 L546.50 81.02 L549.30 81.18 L552.10 81.34 L554.90 81.51 L557.70 81.66 L560.50 81.82 L563.30 81.98 L566.10 82.14 L568.90 82.29 L571.70 82.45 L574.50 82.60 L577.30 82.75 L580.10 82.91 L582.90 83.06 L585.70 83.21 L588.50 83.36 L591.30 83.50 L594.10 83.65 L596.90 83.80 L599.70 83.94 L602.50 84.09 L605.30 84.23 L608.10 84.38 L610.90 84.52 L613.70 84.66 L616.50 84.80" stroke="#000" stroke-width="1.75" fill="none"/>
<path d="M473.75 35.90L475.10 33.00L476.45 35.90Z" fill="#8e8e8e" stroke="#838383" stroke-width="0.4"/>
<path d="M470.05 47.80L471.40 44.90L472.75 47.80Z" fill="#8e8e8e" stroke="#838383" stroke-width="0.4"/>
<path d="M447.15 52.30L448.50 49.40L449.85 52.30Z" fill="#8e8e8e" stroke="#838383" stroke-width="0.4"/>
<path d="M454.45 91.30L455.80 88.40L457.15 91.30Z" fill="#8e8e8e" stroke="#838383" stroke-width="0.4"/>
<path d="M473.75 94.40L475.10 91.50L476.45 94.40Z" fill="#8e8e8e" stroke="#838383" stroke-width="0.4"/>
<path d="M477.45 101.60L478.80 98.70L480.15 101.60Z" fill="#8e8e8e" stroke="#838383" stroke-width="0.4"/>
<path d="M500.45 90.30L501.80 87.40L503.15 90.30Z" fill="#8e8e8e" stroke="#838383" stroke-width="0.4"/>
<path d="M496.65 101.60L498.00 98.70L499.35 101.60Z" fill="#8e8e8e" stroke="#838383" stroke-width="0.4"/>
<path d="M492.85 106.20L494.20 103.30L495.55 106.20Z" fill="#8e8e8e" stroke="#838383" stroke-width="0.4"/>
<path d="M496.65 110.40L498.00 107.50L499.35 110.40Z" fill="#8e8e8e" stroke="#838383" stroke-width="0.4"/>
<path d="M504.35 110.40L505.70 107.50L507.05 110.40Z" fill="#8e8e8e" stroke="#838383" stroke-width="0.4"/>
<path d="M500.45 114.80L501.80 111.90L503.15 114.80Z" fill="#8e8e8e" stroke="#838383" stroke-width="0.4"/>
<path d="M504.35 76.50L505.70 73.60L507.05 76.50Z" fill="#8e8e8e" stroke="#838383" stroke-width="0.4"/>
<path d="M515.95 29.90L517.30 27.00L518.65 29.90Z" fill="#8e8e8e" stroke="#838383" stroke-width="0.4"/>
<path d="M531.05 27.00L532.40 24.10L533.75 27.00Z" fill="#8e8e8e" stroke="#838383" stroke-width="0.4"/>
<path d="M512.15 52.10L513.50 49.20L514.85 52.10Z" fill="#8e8e8e" stroke="#838383" stroke-width="0.4"/>
<path d="M538.65 60.80L540.00 57.90L541.35 60.80Z" fill="#8e8e8e" stroke="#838383" stroke-width="0.4"/>
<path d="M515.95 63.50L517.30 60.60L518.65 63.50Z" fill="#8e8e8e" stroke="#838383" stroke-width="0.4"/>
<path d="M538.65 66.40L540.00 63.50L541.35 66.40Z" fill="#8e8e8e" stroke="#838383" stroke-width="0.4"/>
<path d="M542.65 65.10L544.00 62.20L545.35 65.10Z" fill="#8e8e8e" stroke="#838383" stroke-width="0.4"/>
<path d="M527.15 69.90L528.50 67.00L529.85 69.90Z" fill="#8e8e8e" stroke="#838383" stroke-width="0.4"/>
<path d="M515.95 76.00L517.30 73.10L518.65 76.00Z" fill="#8e8e8e" stroke="#838383" stroke-width="0.4"/>
<path d="M546.55 74.00L547.90 71.10L549.25 74.00Z" fill="#8e8e8e" stroke="#838383" stroke-width="0.4"/>
<path d="M511.85 76.00L513.20 73.10L514.55 76.00Z" fill="#8e8e8e" stroke="#838383" stroke-width="0.4"/>
<path d="M558.05 76.50L559.40 73.60L560.75 76.50Z" fill="#8e8e8e" stroke="#838383" stroke-width="0.4"/>
<path d="M558.05 84.20L559.40 81.30L560.75 84.20Z" fill="#8e8e8e" stroke="#838383" stroke-width="0.4"/>
<path d="M511.85 85.90L513.20 83.00L514.55 85.90Z" fill="#8e8e8e" stroke="#838383" stroke-width="0.4"/>
<path d="M515.95 97.00L517.30 94.10L518.65 97.00Z" fill="#8e8e8e" stroke="#838383" stroke-width="0.4"/>
<path d="M535.05 102.90L536.40 100.00L537.75 102.90Z" fill="#8e8e8e" stroke="#838383" stroke-width="0.4"/>
<path d="M531.05 110.20L532.40 107.30L533.75 110.20Z" fill="#8e8e8e" stroke="#838383" stroke-width="0.4"/>
<path d="M523.55 105.90L524.90 103.00L526.25 105.90Z" fill="#8e8e8e" stroke="#838383" stroke-width="0.4"/>
<path d="M542.45 104.60L543.80 101.70L545.15 104.60Z" fill="#8e8e8e" stroke="#838383" stroke-width="0.4"/>
<path d="M554.05 107.70L555.40 104.80L556.75 107.70Z" fill="#8e8e8e" stroke="#838383" stroke-width="0.4"/>
<path d="M561.65 99.00L563.00 96.10L564.35 99.00Z" fill="#8e8e8e" stroke="#838383" stroke-width="0.4"/>
<path d="M565.45 105.90L566.80 103.00L568.15 105.90Z" fill="#8e8e8e" stroke="#838383" stroke-width="0.4"/>
<path d="M573.15 97.50L574.50 94.60L575.85 97.50Z" fill="#8e8e8e" stroke="#838383" stroke-width="0.4"/>
<path d="M584.45 76.60L585.80 73.70L587.15 76.60Z" fill="#8e8e8e" stroke="#838383" stroke-width="0.4"/>
<path d="M611.55 94.00L612.90 91.10L614.25 94.00Z" fill="#8e8e8e" stroke="#838383" stroke-width="0.4"/>
<path d="M584.45 95.50L585.80 92.60L587.15 95.50Z" fill="#8e8e8e" stroke="#838383" stroke-width="0.4"/>
<path d="M573.25 97.30L574.60 94.40L575.95 97.30Z" fill="#8e8e8e" stroke="#838383" stroke-width="0.4"/>
<path d="M577.15 98.90L578.50 96.00L579.85 98.90Z" fill="#8e8e8e" stroke="#838383" stroke-width="0.4"/>
<path d="M615.45 98.90L616.80 96.00L618.15 98.90Z" fill="#8e8e8e" stroke="#838383" stroke-width="0.4"/>
<path d="M584.45 101.70L585.80 98.80L587.15 101.70Z" fill="#8e8e8e" stroke="#838383" stroke-width="0.4"/>
<path d="M588.55 111.60L589.90 108.70L591.25 111.60Z" fill="#8e8e8e" stroke="#838383" stroke-width="0.4"/>
<path d="M592.35 114.60L593.70 111.70L595.05 114.60Z" fill="#8e8e8e" stroke="#838383" stroke-width="0.4"/>
<path d="M584.45 85.30L585.80 82.40L587.15 85.30Z" fill="#8e8e8e" stroke="#838383" stroke-width="0.4"/>
<path d="M580.85 119.20L582.20 116.30L583.55 119.20Z" fill="#8e8e8e" stroke="#838383" stroke-width="0.4"/>
<circle cx="486.5" cy="83.9" r="1.35" fill="#9a9a9a" stroke="#3a3a3a" stroke-width="0.8"/>
<circle cx="490.3" cy="80.5" r="1.35" fill="#9a9a9a" stroke="#3a3a3a" stroke-width="0.8"/>
<circle cx="498.0" cy="82.4" r="1.35" fill="#9a9a9a" stroke="#3a3a3a" stroke-width="0.8"/>
<circle cx="532.4" cy="69.3" r="1.35" fill="#9a9a9a" stroke="#3a3a3a" stroke-width="0.8"/>
<circle cx="559.4" cy="77.3" r="1.35" fill="#9a9a9a" stroke="#3a3a3a" stroke-width="0.8"/>
<circle cx="551.5" cy="83.4" r="1.35" fill="#9a9a9a" stroke="#3a3a3a" stroke-width="0.8"/>
<circle cx="536.4" cy="89.5" r="1.35" fill="#9a9a9a" stroke="#3a3a3a" stroke-width="0.8"/>
<circle cx="555.4" cy="103.0" r="1.35" fill="#9a9a9a" stroke="#3a3a3a" stroke-width="0.8"/>
<circle cx="601.4" cy="90.1" r="1.35" fill="#9a9a9a" stroke="#3a3a3a" stroke-width="0.8"/>
<circle cx="448.5" cy="48.9" r="1.55" fill="#000"/>
<circle cx="471.4" cy="54.9" r="1.55" fill="#000"/>
<circle cx="475.1" cy="56.4" r="1.55" fill="#000"/>
<circle cx="455.8" cy="78.0" r="1.55" fill="#000"/>
<circle cx="475.1" cy="87.0" r="1.55" fill="#000"/>
<circle cx="478.8" cy="87.0" r="1.55" fill="#000"/>
<circle cx="494.2" cy="84.2" r="1.55" fill="#000"/>
<circle cx="501.8" cy="84.2" r="1.55" fill="#000"/>
<circle cx="498.0" cy="94.4" r="1.55" fill="#000"/>
<circle cx="501.8" cy="106.1" r="1.55" fill="#000"/>
<circle cx="505.7" cy="106.1" r="1.55" fill="#000"/>
<circle cx="505.7" cy="72.4" r="1.55" fill="#000"/>
<circle cx="532.4" cy="37.3" r="1.55" fill="#000"/>
<circle cx="517.3" cy="43.1" r="1.55" fill="#000"/>
<circle cx="540.0" cy="54.9" r="1.55" fill="#000"/>
<circle cx="513.5" cy="65.1" r="1.55" fill="#000"/>
<circle cx="517.3" cy="68.1" r="1.55" fill="#000"/>
<circle cx="559.4" cy="62.2" r="1.55" fill="#000"/>
<circle cx="540.0" cy="69.3" r="1.55" fill="#000"/>
<circle cx="517.3" cy="72.2" r="1.55" fill="#000"/>
<circle cx="543.8" cy="70.9" r="1.55" fill="#000"/>
<circle cx="543.8" cy="73.7" r="1.55" fill="#000"/>
<circle cx="528.7" cy="75.2" r="1.55" fill="#000"/>
<circle cx="547.9" cy="82.4" r="1.55" fill="#000"/>
<circle cx="524.9" cy="86.0" r="1.55" fill="#000"/>
<circle cx="555.4" cy="89.5" r="1.55" fill="#000"/>
<circle cx="517.3" cy="98.7" r="1.55" fill="#000"/>
<circle cx="536.4" cy="97.5" r="1.55" fill="#000"/>
<circle cx="532.4" cy="103.0" r="1.55" fill="#000"/>
<circle cx="563.0" cy="98.7" r="1.55" fill="#000"/>
<circle cx="566.8" cy="95.7" r="1.55" fill="#000"/>
<circle cx="574.3" cy="79.5" r="1.55" fill="#000"/>
<circle cx="585.8" cy="69.4" r="1.55" fill="#000"/>
<circle cx="593.7" cy="70.7" r="1.55" fill="#000"/>
<circle cx="612.9" cy="76.4" r="1.55" fill="#000"/>
<circle cx="574.6" cy="79.2" r="1.55" fill="#000"/>
<circle cx="582.0" cy="78.2" r="1.55" fill="#000"/>
<circle cx="585.8" cy="78.4" r="1.55" fill="#000"/>
<circle cx="578.2" cy="82.5" r="1.55" fill="#000"/>
<circle cx="585.8" cy="84.5" r="1.55" fill="#000"/>
<circle cx="601.4" cy="84.2" r="1.55" fill="#000"/>
<circle cx="616.8" cy="85.5" r="1.55" fill="#000"/>
<circle cx="589.9" cy="100.1" r="1.55" fill="#000"/>
<circle cx="593.7" cy="98.6" r="1.55" fill="#000"/>
<circle cx="582.3" cy="104.5" r="1.55" fill="#000"/>
<path d="M95.90 299.40 L98.65 300.18 L101.40 300.94 L104.15 301.68 L106.90 302.40 L109.65 303.10 L112.40 303.78 L115.15 304.45 L117.90 305.09 L120.65 305.72 L123.40 306.34 L126.15 306.94 L128.90 307.52 L131.65 308.09 L134.40 308.65 L137.15 309.20 L139.90 309.73 L142.65 310.25 L145.40 310.76 L148.15 311.26 L150.90 311.75 L153.65 312.23 L156.40 312.70 L159.15 313.16 L161.90 313.61 L164.65 314.05 L167.40 314.48 L170.15 314.91 L172.90 315.32 L175.65 315.73 L178.40 316.13 L181.15 316.52 L183.90 316.91 L186.65 317.29 L189.40 317.66 L192.15 318.03 L194.90 318.39 L197.65 318.74 L200.40 319.09 L203.15 319.43 L205.90 319.76 L208.65 320.09 L211.40 320.42 L214.15 320.74 L216.90 321.06 L219.65 321.37 L222.40 321.67 L225.15 321.97 L227.90 322.27 L230.65 322.56 L233.40 322.85 L236.15 323.13 L238.90 323.41 L241.65 323.68 L244.40 323.95 L247.15 324.22 L249.90 324.48 L252.65 324.74 L255.40 325.00 L258.15 325.25 L260.90 325.50" stroke="#a4a4a4" stroke-width="0.9" fill="none"/>
<path d="M95.90 289.30 L98.65 290.17 L101.40 291.02 L104.15 291.85 L106.90 292.65 L109.65 293.44 L112.40 294.20 L115.15 294.94 L117.90 295.66 L120.65 296.37 L123.40 297.05 L126.15 297.73 L128.90 298.38 L131.65 299.02 L134.40 299.64 L137.15 300.25 L139.90 300.85 L142.65 301.43 L145.40 302.01 L148.15 302.56 L150.90 303.11 L153.65 303.65 L156.40 304.17 L159.15 304.68 L161.90 305.19 L164.65 305.68 L167.40 306.16 L170.15 306.64 L172.90 307.10 L175.65 307.56 L178.40 308.01 L181.15 308.45 L183.90 308.88 L186.65 309.30 L189.40 309.72 L192.15 310.13 L194.90 310.53 L197.65 310.93 L200.40 311.32 L203.15 311.70 L205.90 312.08 L208.65 312.45 L211.40 312.81 L214.15 313.17 L216.90 313.52 L219.65 313.87 L222.40 314.21 L225.15 314.55 L227.90 314.88 L230.65 315.21 L233.40 315.53 L236.15 315.84 L238.90 316.16 L241.65 316.46 L244.40 316.77 L247.15 317.07 L249.90 317.36 L252.65 317.65 L255.40 317.94 L258.15 318.22 L260.90 318.50" stroke="#a4a4a4" stroke-width="0.9" fill="none"/>
<path d="M95.90 294.20 L98.65 295.00 L101.40 295.79 L104.15 296.55 L106.90 297.29 L109.65 298.01 L112.40 298.71 L115.15 299.39 L117.90 300.06 L120.65 300.71 L123.40 301.34 L126.15 301.96 L128.90 302.57 L131.65 303.16 L134.40 303.73 L137.15 304.30 L139.90 304.85 L142.65 305.39 L145.40 305.91 L148.15 306.43 L150.90 306.93 L153.65 307.43 L156.40 307.91 L159.15 308.39 L161.90 308.85 L164.65 309.31 L167.40 309.76 L170.15 310.20 L172.90 310.63 L175.65 311.05 L178.40 311.47 L181.15 311.87 L183.90 312.27 L186.65 312.67 L189.40 313.05 L192.15 313.43 L194.90 313.80 L197.65 314.17 L200.40 314.53 L203.15 314.89 L205.90 315.24 L208.65 315.58 L211.40 315.92 L214.15 316.25 L216.90 316.58 L219.65 316.90 L222.40 317.22 L225.15 317.53 L227.90 317.84 L230.65 318.14 L233.40 318.44 L236.15 318.73 L238.90 319.02 L241.65 319.31 L244.40 319.59 L247.15 319.87 L249.90 320.14 L252.65 320.41 L255.40 320.68 L258.15 320.94 L260.90 321.20" stroke="#a6a6a6" stroke-width="2.4" fill="none"/>
<path d="M95.90 284.50 L98.65 285.38 L101.40 286.25 L104.15 287.10 L106.90 287.94 L109.65 288.77 L112.40 289.58 L115.15 290.38 L117.90 291.16 L120.65 291.93 L123.40 292.69 L126.15 293.43 L128.90 294.15 L131.65 294.86 L134.40 295.54 L137.15 296.22 L139.90 296.87 L142.65 297.50 L145.40 298.12 L148.15 298.71 L150.90 299.28 L153.65 299.84 L156.40 300.37 L159.15 300.95 L161.90 301.61 L164.65 302.31 L167.40 303.01 L170.15 303.67 L172.90 304.26 L175.65 304.76 L178.40 305.23 L181.15 305.71 L183.90 306.19 L186.65 306.66 L189.40 307.11 L192.15 307.52 L194.90 307.88 L197.65 308.21 L200.40 308.53 L203.15 308.84 L205.90 309.18 L208.65 309.51 L211.40 309.74 L214.15 309.98 L216.90 310.32 L219.65 310.66 L222.40 311.00 L225.15 311.33 L227.90 311.66 L230.65 311.98 L233.40 312.29 L236.15 312.60 L238.90 312.90 L241.65 313.20 L244.40 313.49 L247.15 313.79 L249.90 314.07 L252.65 314.36 L255.40 314.64 L258.15 314.92 L260.90 315.20" stroke="#000" stroke-width="1.4" stroke-dasharray="1.4 2.8" stroke-dashoffset="-1.1" fill="none"/>
<path d="M95.90 289.00 L98.65 289.87 L101.40 290.72 L104.15 291.55 L106.90 292.35 L109.65 293.13 L112.40 293.90 L115.15 294.64 L117.90 295.36 L120.65 296.06 L123.40 296.75 L126.15 297.42 L128.90 298.08 L131.65 298.71 L134.40 299.34 L137.15 299.95 L139.90 300.55 L142.65 301.13 L145.40 301.70 L148.15 302.26 L150.90 302.80 L153.65 303.34 L156.40 303.86 L159.15 304.38 L161.90 304.88 L164.65 305.37 L167.40 305.86 L170.15 306.33 L172.90 306.80 L175.65 307.26 L178.40 307.70 L181.15 308.14 L183.90 308.58 L186.65 309.00 L189.40 309.42 L192.15 309.83 L194.90 310.23 L197.65 310.63 L200.40 311.01 L203.15 311.40 L205.90 311.77 L208.65 312.14 L211.40 312.51 L214.15 312.87 L216.90 313.22 L219.65 313.57 L222.40 313.91 L225.15 314.24 L227.90 314.58 L230.65 314.90 L233.40 315.22 L236.15 315.54 L238.90 315.85 L241.65 316.16 L244.40 316.47 L247.15 316.76 L249.90 317.06 L252.65 317.35 L255.40 317.64 L258.15 317.92 L260.90 318.20" stroke="#000" stroke-width="1.75" fill="none"/>
<path d="M114.55 253.80L115.90 250.90L117.25 253.80Z" fill="#8e8e8e" stroke="#838383" stroke-width="0.4"/>
<path d="M127.75 251.00L129.10 248.10L130.45 251.00Z" fill="#8e8e8e" stroke="#838383" stroke-width="0.4"/>
<path d="M134.75 259.70L136.10 256.80L137.45 259.70Z" fill="#8e8e8e" stroke="#838383" stroke-width="0.4"/>
<path d="M127.55 271.10L128.90 268.20L130.25 271.10Z" fill="#8e8e8e" stroke="#838383" stroke-width="0.4"/>
<path d="M113.75 275.80L115.10 272.90L116.45 275.80Z" fill="#8e8e8e" stroke="#838383" stroke-width="0.4"/>
<path d="M148.25 276.00L149.60 273.10L150.95 276.00Z" fill="#8e8e8e" stroke="#838383" stroke-width="0.4"/>
<path d="M126.55 284.20L127.90 281.30L129.25 284.20Z" fill="#8e8e8e" stroke="#838383" stroke-width="0.4"/>
<path d="M128.35 287.30L129.70 284.40L131.05 287.30Z" fill="#8e8e8e" stroke="#838383" stroke-width="0.4"/>
<path d="M118.95 289.80L120.30 286.90L121.65 289.80Z" fill="#8e8e8e" stroke="#838383" stroke-width="0.4"/>
<path d="M99.95 298.60L101.30 295.70L102.65 298.60Z" fill="#8e8e8e" stroke="#838383" stroke-width="0.4"/>
<path d="M130.85 313.70L132.20 310.80L133.55 313.70Z" fill="#8e8e8e" stroke="#838383" stroke-width="0.4"/>
<path d="M145.45 318.00L146.80 315.10L148.15 318.00Z" fill="#8e8e8e" stroke="#838383" stroke-width="0.4"/>
<path d="M114.55 320.50L115.90 317.60L117.25 320.50Z" fill="#8e8e8e" stroke="#838383" stroke-width="0.4"/>
<path d="M149.55 325.10L150.90 322.20L152.25 325.10Z" fill="#8e8e8e" stroke="#838383" stroke-width="0.4"/>
<path d="M151.25 333.80L152.60 330.90L153.95 333.80Z" fill="#8e8e8e" stroke="#838383" stroke-width="0.4"/>
<path d="M150.55 301.60L151.90 298.70L153.25 301.60Z" fill="#8e8e8e" stroke="#838383" stroke-width="0.4"/>
<path d="M174.15 306.20L175.50 303.30L176.85 306.20Z" fill="#8e8e8e" stroke="#838383" stroke-width="0.4"/>
<path d="M167.05 312.40L168.40 309.50L169.75 312.40Z" fill="#8e8e8e" stroke="#838383" stroke-width="0.4"/>
<path d="M170.35 317.50L171.70 314.60L173.05 317.50Z" fill="#8e8e8e" stroke="#838383" stroke-width="0.4"/>
<path d="M193.65 318.00L195.00 315.10L196.35 318.00Z" fill="#8e8e8e" stroke="#838383" stroke-width="0.4"/>
<path d="M167.05 320.80L168.40 317.90L169.75 320.80Z" fill="#8e8e8e" stroke="#838383" stroke-width="0.4"/>
<path d="M173.95 322.30L175.30 319.40L176.65 322.30Z" fill="#8e8e8e" stroke="#838383" stroke-width="0.4"/>
<path d="M190.55 322.30L191.90 319.40L193.25 322.30Z" fill="#8e8e8e" stroke="#838383" stroke-width="0.4"/>
<path d="M160.95 319.20L162.30 316.30L163.65 319.20Z" fill="#8e8e8e" stroke="#838383" stroke-width="0.4"/>
<path d="M162.45 324.90L163.80 322.00L165.15 324.90Z" fill="#8e8e8e" stroke="#838383" stroke-width="0.4"/>
<path d="M163.95 330.30L165.30 327.40L166.65 330.30Z" fill="#8e8e8e" stroke="#838383" stroke-width="0.4"/>
<path d="M162.45 335.30L163.80 332.40L165.15 335.30Z" fill="#8e8e8e" stroke="#838383" stroke-width="0.4"/>
<path d="M168.05 338.40L169.40 335.50L170.75 338.40Z" fill="#8e8e8e" stroke="#838383" stroke-width="0.4"/>
<path d="M195.15 338.40L196.50 335.50L197.85 338.40Z" fill="#8e8e8e" stroke="#838383" stroke-width="0.4"/>
<path d="M205.85 333.80L207.20 330.90L208.55 333.80Z" fill="#8e8e8e" stroke="#838383" stroke-width="0.4"/>
<path d="M215.55 326.60L216.90 323.70L218.25 326.60Z" fill="#8e8e8e" stroke="#838383" stroke-width="0.4"/>
<path d="M216.95 329.90L218.30 327.00L219.65 329.90Z" fill="#8e8e8e" stroke="#838383" stroke-width="0.4"/>
<path d="M224.45 325.10L225.80 322.20L227.15 325.10Z" fill="#8e8e8e" stroke="#838383" stroke-width="0.4"/>
<path d="M239.75 328.10L241.10 325.20L242.45 328.10Z" fill="#8e8e8e" stroke="#838383" stroke-width="0.4"/>
<path d="M251.35 329.70L252.70 326.80L254.05 329.70Z" fill="#8e8e8e" stroke="#838383" stroke-width="0.4"/>
<path d="M260.35 333.90L261.70 331.00L263.05 333.90Z" fill="#8e8e8e" stroke="#838383" stroke-width="0.4"/>
<path d="M94.45 288.90L95.80 286.00L97.15 288.90Z" fill="#8e8e8e" stroke="#838383" stroke-width="0.4"/>
<path d="M149.65 324.60L151.00 321.70L152.35 324.60Z" fill="#8e8e8e" stroke="#838383" stroke-width="0.4"/>
<circle cx="137.6" cy="292.6" r="1.35" fill="#9a9a9a" stroke="#3a3a3a" stroke-width="0.8"/>
<circle cx="127.4" cy="304.4" r="1.35" fill="#9a9a9a" stroke="#3a3a3a" stroke-width="0.8"/>
<circle cx="142.4" cy="313.4" r="1.35" fill="#9a9a9a" stroke="#3a3a3a" stroke-width="0.8"/>
<circle cx="241.3" cy="312.9" r="1.35" fill="#9a9a9a" stroke="#3a3a3a" stroke-width="0.8"/>
<circle cx="129.1" cy="261.2" r="1.55" fill="#000"/>
<circle cx="115.9" cy="266.8" r="1.55" fill="#000"/>
<circle cx="149.6" cy="272.5" r="1.55" fill="#000"/>
<circle cx="127.7" cy="278.5" r="1.55" fill="#000"/>
<circle cx="129.1" cy="278.5" r="1.55" fill="#000"/>
<circle cx="136.1" cy="279.9" r="1.55" fill="#000"/>
<circle cx="149.6" cy="285.7" r="1.55" fill="#000"/>
<circle cx="115.1" cy="288.8" r="1.55" fill="#000"/>
<circle cx="120.3" cy="292.6" r="1.55" fill="#000"/>
<circle cx="129.1" cy="291.6" r="1.55" fill="#000"/>
<circle cx="128.4" cy="293.1" r="1.55" fill="#000"/>
<circle cx="95.7" cy="294.7" r="1.55" fill="#000"/>
<circle cx="101.3" cy="307.5" r="1.55" fill="#000"/>
<circle cx="106.7" cy="306.2" r="1.55" fill="#000"/>
<circle cx="115.9" cy="322.3" r="1.55" fill="#000"/>
<circle cx="131" cy="321.8" r="1.55" fill="#000"/>
<circle cx="132.8" cy="320.8" r="1.55" fill="#000"/>
<circle cx="152.6" cy="329.5" r="1.55" fill="#000"/>
<circle cx="146.8" cy="308" r="1.55" fill="#000"/>
<circle cx="150.9" cy="309" r="1.55" fill="#000"/>
<circle cx="151.2" cy="295.7" r="1.55" fill="#000"/>
<circle cx="139.7" cy="297.8" r="1.55" fill="#000"/>
<circle cx="159.4" cy="294.4" r="1.55" fill="#000"/>
<circle cx="205.7" cy="297.5" r="1.55" fill="#000"/>
<circle cx="161.8" cy="301.3" r="1.55" fill="#000"/>
<circle cx="168.4" cy="301.9" r="1.55" fill="#000"/>
<circle cx="168.4" cy="303.4" r="1.55" fill="#000"/>
<circle cx="171.7" cy="300.1" r="1.55" fill="#000"/>
<circle cx="200.6" cy="307.5" r="1.55" fill="#000"/>
<circle cx="218.5" cy="307.3" r="1.55" fill="#000"/>
<circle cx="195" cy="310.5" r="1.55" fill="#000"/>
<circle cx="196.5" cy="322.3" r="1.55" fill="#000"/>
<circle cx="163.3" cy="317.7" r="1.55" fill="#000"/>
<circle cx="164.3" cy="319.2" r="1.55" fill="#000"/>
<circle cx="166.1" cy="326.4" r="1.55" fill="#000"/>
<circle cx="169.4" cy="329.5" r="1.55" fill="#000"/>
<circle cx="206.7" cy="326.4" r="1.55" fill="#000"/>
<circle cx="207.2" cy="327.9" r="1.55" fill="#000"/>
<circle cx="240.9" cy="301.8" r="1.55" fill="#000"/>
<circle cx="252.6" cy="309.2" r="1.55" fill="#000"/>
<circle cx="261.4" cy="306.1" r="1.55" fill="#000"/>
<circle cx="225.9" cy="310.6" r="1.55" fill="#000"/>
<circle cx="216.6" cy="313.8" r="1.55" fill="#000"/>
<path d="M452.20 279.30 L454.85 281.70 L457.49 283.93 L460.14 286.01 L462.79 287.97 L465.43 289.81 L468.08 291.54 L470.73 293.18 L473.37 294.73 L476.02 296.20 L478.67 297.59 L481.31 298.92 L483.96 300.19 L486.61 301.39 L489.25 302.55 L491.90 303.65 L494.55 304.71 L497.19 305.73 L499.84 306.71 L502.49 307.65 L505.13 308.55 L507.78 309.42 L510.43 310.26 L513.07 311.07 L515.72 311.85 L518.37 312.61 L521.01 313.34 L523.66 314.05 L526.31 314.74 L528.95 315.40 L531.60 316.05 L534.25 316.68 L536.89 317.28 L539.54 317.88 L542.19 318.45 L544.83 319.01 L547.48 319.56 L550.13 320.09 L552.77 320.60 L555.42 321.11 L558.07 321.60 L560.71 322.08 L563.36 322.54 L566.01 323.00 L568.65 323.44 L571.30 323.88 L573.95 324.31 L576.59 324.72 L579.24 325.13 L581.89 325.53 L584.53 325.91 L587.18 326.30 L589.83 326.67 L592.47 327.03 L595.12 327.39 L597.77 327.74 L600.41 328.09 L603.06 328.43 L605.71 328.76 L608.35 329.08 L611.00 329.40" stroke="#a4a4a4" stroke-width="0.9" fill="none"/>
<path d="M452.20 262.00 L454.85 264.83 L457.49 267.46 L460.14 269.92 L462.79 272.23 L465.43 274.40 L468.08 276.45 L470.73 278.38 L473.37 280.20 L476.02 281.93 L478.67 283.58 L481.31 285.14 L483.96 286.63 L486.61 288.06 L489.25 289.42 L491.90 290.72 L494.55 291.97 L497.19 293.17 L499.84 294.32 L502.49 295.42 L505.13 296.49 L507.78 297.51 L510.43 298.50 L513.07 299.45 L515.72 300.37 L518.37 301.26 L521.01 302.13 L523.66 302.96 L526.31 303.77 L528.95 304.55 L531.60 305.31 L534.25 306.05 L536.89 306.76 L539.54 307.46 L542.19 308.14 L544.83 308.79 L547.48 309.43 L550.13 310.06 L552.77 310.66 L555.42 311.26 L558.07 311.83 L560.71 312.40 L563.36 312.95 L566.01 313.48 L568.65 314.01 L571.30 314.52 L573.95 315.02 L576.59 315.50 L579.24 315.98 L581.89 316.45 L584.53 316.91 L587.18 317.36 L589.83 317.79 L592.47 318.22 L595.12 318.64 L597.77 319.06 L600.41 319.46 L603.06 319.86 L605.71 320.24 L608.35 320.63 L611.00 321.00" stroke="#a4a4a4" stroke-width="0.9" fill="none"/>
<path d="M452.20 271.20 L454.85 273.75 L457.49 276.13 L460.14 278.36 L462.79 280.44 L465.43 282.41 L468.08 284.26 L470.73 286.00 L473.37 287.66 L476.02 289.22 L478.67 290.72 L481.31 292.13 L483.96 293.49 L486.61 294.78 L489.25 296.01 L491.90 297.20 L494.55 298.33 L497.19 299.42 L499.84 300.46 L502.49 301.47 L505.13 302.43 L507.78 303.36 L510.43 304.26 L513.07 305.13 L515.72 305.97 L518.37 306.78 L521.01 307.57 L523.66 308.32 L526.31 309.06 L528.95 309.77 L531.60 310.47 L534.25 311.14 L536.89 311.79 L539.54 312.43 L542.19 313.04 L544.83 313.64 L547.48 314.23 L550.13 314.80 L552.77 315.35 L555.42 315.89 L558.07 316.42 L560.71 316.93 L563.36 317.43 L566.01 317.92 L568.65 318.40 L571.30 318.87 L573.95 319.32 L576.59 319.77 L579.24 320.21 L581.89 320.64 L584.53 321.05 L587.18 321.46 L589.83 321.86 L592.47 322.26 L595.12 322.64 L597.77 323.02 L600.41 323.39 L603.06 323.75 L605.71 324.11 L608.35 324.46 L611.00 324.80" stroke="#a6a6a6" stroke-width="2.4" fill="none"/>
<path d="M452.20 272.70 L454.85 275.25 L457.49 277.62 L460.14 279.84 L462.79 281.92 L465.43 283.88 L468.08 285.72 L470.73 287.46 L473.37 289.11 L476.02 290.67 L478.67 292.15 L481.31 293.57 L483.96 294.91 L486.61 296.20 L489.25 297.43 L491.90 298.60 L494.55 299.73 L497.19 300.81 L499.84 301.85 L502.49 302.85 L505.13 303.81 L507.78 304.74 L510.43 305.63 L513.07 306.49 L515.72 307.32 L518.37 308.13 L521.01 308.91 L523.66 309.66 L526.31 310.39 L528.95 311.10 L531.60 311.79 L534.25 312.46 L536.89 313.10 L539.54 313.73 L542.19 314.35 L544.83 314.94 L547.48 315.52 L550.13 316.09 L552.77 316.64 L555.42 317.17 L558.07 317.69 L560.71 318.20 L563.36 318.70 L566.01 319.19 L568.65 319.66 L571.30 320.12 L573.95 320.58 L576.59 321.02 L579.24 321.45 L581.89 321.88 L584.53 322.29 L587.18 322.70 L589.83 323.09 L592.47 323.48 L595.12 323.86 L597.77 324.24 L600.41 324.60 L603.06 324.96 L605.71 325.32 L608.35 325.66 L611.00 326.00" stroke="#000" stroke-width="1.4" stroke-dasharray="1.4 2.8" stroke-dashoffset="0.75" fill="none"/>
<path d="M452.20 257.40 L454.85 260.33 L457.49 263.06 L460.14 265.62 L462.79 268.01 L465.43 270.26 L468.08 272.38 L470.73 274.38 L473.37 276.27 L476.02 278.07 L478.67 279.77 L481.31 281.40 L483.96 282.94 L486.61 284.42 L489.25 285.83 L491.90 287.18 L494.55 288.48 L497.19 289.72 L499.84 290.91 L502.49 292.06 L505.13 293.16 L507.78 294.22 L510.43 295.25 L513.07 296.24 L515.72 297.19 L518.37 298.12 L521.01 299.01 L523.66 299.88 L526.31 300.72 L528.95 301.53 L531.60 302.32 L534.25 303.08 L536.89 303.82 L539.54 304.55 L542.19 305.25 L544.83 305.93 L547.48 306.60 L550.13 307.24 L552.77 307.87 L555.42 308.49 L558.07 309.09 L560.71 309.67 L563.36 310.24 L566.01 310.80 L568.65 311.34 L571.30 311.87 L573.95 312.39 L576.59 312.90 L579.24 313.39 L581.89 313.88 L584.53 314.35 L587.18 314.82 L589.83 315.27 L592.47 315.72 L595.12 316.15 L597.77 316.58 L600.41 317.00 L603.06 317.41 L605.71 317.82 L608.35 318.21 L611.00 318.60" stroke="#000" stroke-width="1.4" stroke-dasharray="1.4 2.8" stroke-dashoffset="0.75" fill="none"/>
<path d="M452.20 265.50 L454.85 268.25 L457.49 270.81 L460.14 273.20 L462.79 275.44 L465.43 277.55 L468.08 279.53 L470.73 281.41 L473.37 283.18 L476.02 284.86 L478.67 286.46 L481.31 287.98 L483.96 289.43 L486.61 290.81 L489.25 292.13 L491.90 293.40 L494.55 294.61 L497.19 295.77 L499.84 296.89 L502.49 297.96 L505.13 299.00 L507.78 299.99 L510.43 300.95 L513.07 301.88 L515.72 302.77 L518.37 303.64 L521.01 304.47 L523.66 305.28 L526.31 306.07 L528.95 306.83 L531.60 307.57 L534.25 308.28 L536.89 308.98 L539.54 309.65 L542.19 310.31 L544.83 310.95 L547.48 311.57 L550.13 312.18 L552.77 312.77 L555.42 313.34 L558.07 313.90 L560.71 314.45 L563.36 314.98 L566.01 315.50 L568.65 316.01 L571.30 316.51 L573.95 316.99 L576.59 317.47 L579.24 317.93 L581.89 318.38 L584.53 318.83 L587.18 319.26 L589.83 319.69 L592.47 320.10 L595.12 320.51 L597.77 320.91 L600.41 321.30 L603.06 321.69 L605.71 322.07 L608.35 322.44 L611.00 322.80" stroke="#000" stroke-width="1.75" fill="none"/>
<path d="M459.15 253.80L460.50 250.90L461.85 253.80Z" fill="#8e8e8e" stroke="#838383" stroke-width="0.4"/>
<path d="M450.65 288.50L452.00 285.60L453.35 288.50Z" fill="#8e8e8e" stroke="#838383" stroke-width="0.4"/>
<path d="M510.85 271.10L512.20 268.20L513.55 271.10Z" fill="#8e8e8e" stroke="#838383" stroke-width="0.4"/>
<path d="M509.05 275.80L510.40 272.90L511.75 275.80Z" fill="#8e8e8e" stroke="#838383" stroke-width="0.4"/>
<path d="M522.55 250.70L523.90 247.80L525.25 250.70Z" fill="#8e8e8e" stroke="#838383" stroke-width="0.4"/>
<path d="M515.95 259.70L517.30 256.80L518.65 259.70Z" fill="#8e8e8e" stroke="#838383" stroke-width="0.4"/>
<path d="M519.45 276.00L520.80 273.10L522.15 276.00Z" fill="#8e8e8e" stroke="#838383" stroke-width="0.4"/>
<path d="M523.05 284.40L524.40 281.50L525.75 284.40Z" fill="#8e8e8e" stroke="#838383" stroke-width="0.4"/>
<path d="M520.05 287.30L521.40 284.40L522.75 287.30Z" fill="#8e8e8e" stroke="#838383" stroke-width="0.4"/>
<path d="M517.45 290.10L518.80 287.20L520.15 290.10Z" fill="#8e8e8e" stroke="#838383" stroke-width="0.4"/>
<path d="M528.95 292.90L530.30 290.00L531.65 292.90Z" fill="#8e8e8e" stroke="#838383" stroke-width="0.4"/>
<path d="M535.15 299.10L536.50 296.20L537.85 299.10Z" fill="#8e8e8e" stroke="#838383" stroke-width="0.4"/>
<path d="M509.75 297.50L511.10 294.60L512.45 297.50Z" fill="#8e8e8e" stroke="#838383" stroke-width="0.4"/>
<path d="M532.25 300.60L533.60 297.70L534.95 300.60Z" fill="#8e8e8e" stroke="#838383" stroke-width="0.4"/>
<path d="M522.55 301.10L523.90 298.20L525.25 301.10Z" fill="#8e8e8e" stroke="#838383" stroke-width="0.4"/>
<path d="M542.45 303.70L543.80 300.80L545.15 303.70Z" fill="#8e8e8e" stroke="#838383" stroke-width="0.4"/>
<path d="M509.95 320.50L511.30 317.60L512.65 320.50Z" fill="#8e8e8e" stroke="#838383" stroke-width="0.4"/>
<path d="M516.45 329.70L517.80 326.80L519.15 329.70Z" fill="#8e8e8e" stroke="#838383" stroke-width="0.4"/>
<path d="M539.25 325.10L540.60 322.20L541.95 325.10Z" fill="#8e8e8e" stroke="#838383" stroke-width="0.4"/>
<path d="M549.15 324.90L550.50 322.00L551.85 324.90Z" fill="#8e8e8e" stroke="#838383" stroke-width="0.4"/>
<path d="M555.25 329.70L556.60 326.80L557.95 329.70Z" fill="#8e8e8e" stroke="#838383" stroke-width="0.4"/>
<path d="M533.75 334.10L535.10 331.20L536.45 334.10Z" fill="#8e8e8e" stroke="#838383" stroke-width="0.4"/>
<path d="M560.65 335.80L562.00 332.90L563.35 335.80Z" fill="#8e8e8e" stroke="#838383" stroke-width="0.4"/>
<path d="M465.15 321.60L466.50 318.70L467.85 321.60Z" fill="#8e8e8e" stroke="#838383" stroke-width="0.4"/>
<path d="M479.95 331.30L481.30 328.40L482.65 331.30Z" fill="#8e8e8e" stroke="#838383" stroke-width="0.4"/>
<path d="M481.65 338.40L483.00 335.50L484.35 338.40Z" fill="#8e8e8e" stroke="#838383" stroke-width="0.4"/>
<path d="M492.65 318.00L494.00 315.10L495.35 318.00Z" fill="#8e8e8e" stroke="#838383" stroke-width="0.4"/>
<path d="M497.25 333.80L498.60 330.90L499.95 333.80Z" fill="#8e8e8e" stroke="#838383" stroke-width="0.4"/>
<path d="M496.75 342.50L498.10 339.60L499.45 342.50Z" fill="#8e8e8e" stroke="#838383" stroke-width="0.4"/>
<path d="M579.25 315.10L580.60 312.20L581.95 315.10Z" fill="#8e8e8e" stroke="#838383" stroke-width="0.4"/>
<path d="M576.25 329.60L577.60 326.70L578.95 329.60Z" fill="#8e8e8e" stroke="#838383" stroke-width="0.4"/>
<path d="M581.05 328.30L582.40 325.40L583.75 328.30Z" fill="#8e8e8e" stroke="#838383" stroke-width="0.4"/>
<path d="M587.25 338.70L588.60 335.80L589.95 338.70Z" fill="#8e8e8e" stroke="#838383" stroke-width="0.4"/>
<path d="M606.15 334.00L607.50 331.10L608.85 334.00Z" fill="#8e8e8e" stroke="#838383" stroke-width="0.4"/>
<circle cx="469" cy="292.8" r="1.35" fill="#9a9a9a" stroke="#3a3a3a" stroke-width="0.8"/>
<circle cx="526" cy="300.8" r="1.35" fill="#9a9a9a" stroke="#3a3a3a" stroke-width="0.8"/>
<circle cx="549.5" cy="307.7" r="1.35" fill="#9a9a9a" stroke="#3a3a3a" stroke-width="0.8"/>
<circle cx="465.4" cy="304.4" r="1.35" fill="#9a9a9a" stroke="#3a3a3a" stroke-width="0.8"/>
<circle cx="466.5" cy="322.3" r="1.35" fill="#9a9a9a" stroke="#3a3a3a" stroke-width="0.8"/>
<circle cx="500.7" cy="307.5" r="1.35" fill="#9a9a9a" stroke="#3a3a3a" stroke-width="0.8"/>
<circle cx="460.5" cy="266.8" r="1.55" fill="#000"/>
<circle cx="452" cy="294.3" r="1.55" fill="#000"/>
<circle cx="512.2" cy="278.6" r="1.55" fill="#000"/>
<circle cx="510.4" cy="288.5" r="1.55" fill="#000"/>
<circle cx="523.9" cy="260.9" r="1.55" fill="#000"/>
<circle cx="520.8" cy="272.5" r="1.55" fill="#000"/>
<circle cx="517.5" cy="280.1" r="1.55" fill="#000"/>
<circle cx="524.4" cy="278.6" r="1.55" fill="#000"/>
<circle cx="521.4" cy="291.6" r="1.55" fill="#000"/>
<circle cx="518.8" cy="292.9" r="1.55" fill="#000"/>
<circle cx="533.6" cy="292.9" r="1.55" fill="#000"/>
<circle cx="544.3" cy="285.8" r="1.55" fill="#000"/>
<circle cx="559.4" cy="294.3" r="1.55" fill="#000"/>
<circle cx="536.5" cy="296" r="1.55" fill="#000"/>
<circle cx="513.7" cy="296" r="1.55" fill="#000"/>
<circle cx="530.5" cy="298.8" r="1.55" fill="#000"/>
<circle cx="545.9" cy="301.6" r="1.55" fill="#000"/>
<circle cx="573.7" cy="300.3" r="1.55" fill="#000"/>
<circle cx="559.2" cy="301.9" r="1.55" fill="#000"/>
<circle cx="563.5" cy="301.9" r="1.55" fill="#000"/>
<circle cx="561.7" cy="303.4" r="1.55" fill="#000"/>
<circle cx="568.4" cy="306" r="1.55" fill="#000"/>
<circle cx="567.3" cy="307.7" r="1.55" fill="#000"/>
<circle cx="550.5" cy="308" r="1.55" fill="#000"/>
<circle cx="510.1" cy="306.5" r="1.55" fill="#000"/>
<circle cx="517.8" cy="309.3" r="1.55" fill="#000"/>
<circle cx="540.6" cy="317.5" r="1.55" fill="#000"/>
<circle cx="556.6" cy="319.2" r="1.55" fill="#000"/>
<circle cx="562" cy="323.7" r="1.55" fill="#000"/>
<circle cx="527" cy="320.8" r="1.55" fill="#000"/>
<circle cx="511.3" cy="322.3" r="1.55" fill="#000"/>
<circle cx="535.1" cy="329.5" r="1.55" fill="#000"/>
<circle cx="481.3" cy="326.4" r="1.55" fill="#000"/>
<circle cx="483.3" cy="329.5" r="1.55" fill="#000"/>
<circle cx="494" cy="310.5" r="1.55" fill="#000"/>
<circle cx="498.1" cy="326.9" r="1.55" fill="#000"/>
<circle cx="498.6" cy="328.4" r="1.55" fill="#000"/>
<circle cx="582.4" cy="297.5" r="1.55" fill="#000"/>
<circle cx="580.6" cy="301.8" r="1.55" fill="#000"/>
<circle cx="577.4" cy="307.3" r="1.55" fill="#000"/>
<circle cx="577.8" cy="310.6" r="1.55" fill="#000"/>
<circle cx="591" cy="309.2" r="1.55" fill="#000"/>
<circle cx="588.4" cy="313.1" r="1.55" fill="#000"/>
<circle cx="607.6" cy="306.1" r="1.55" fill="#000"/>
<circle cx="611.9" cy="313.3" r="1.55" fill="#000"/>
<path d="M86.30 527.80 L88.73 528.63 L91.16 529.44 L93.59 530.22 L96.03 530.98 L98.46 531.72 L100.89 532.43 L103.32 533.13 L105.75 533.80 L108.19 534.46 L110.62 535.10 L113.05 535.73 L115.48 536.34 L117.91 536.93 L120.34 537.51 L122.77 538.07 L125.21 538.62 L127.64 539.16 L130.07 539.69 L132.50 540.20 L134.93 540.70 L137.36 541.19 L139.80 541.67 L142.23 542.14 L144.66 542.60 L147.09 543.06 L149.52 543.50 L151.95 543.93 L154.39 544.35 L156.82 544.77 L159.25 545.17 L161.68 545.57 L164.11 545.97 L166.54 546.35 L168.98 546.73 L171.41 547.10 L173.84 547.46 L176.27 547.82 L178.70 548.17 L181.13 548.51 L183.57 548.85 L186.00 549.19 L188.43 549.51 L190.86 549.84 L193.29 550.15 L195.72 550.46 L198.16 550.77 L200.59 551.07 L203.02 551.37 L205.45 551.66 L207.88 551.95 L210.31 552.23 L212.75 552.51 L215.18 552.79 L217.61 553.06 L220.04 553.32 L222.47 553.59 L224.90 553.84 L227.34 554.10 L229.77 554.35 L232.20 554.60" stroke="#a4a4a4" stroke-width="0.9" fill="none"/>
<path d="M86.30 517.50 L88.73 518.45 L91.16 519.37 L93.59 520.26 L96.03 521.12 L98.46 521.96 L100.89 522.78 L103.32 523.57 L105.75 524.34 L108.19 525.10 L110.62 525.83 L113.05 526.54 L115.48 527.23 L117.91 527.91 L120.34 528.56 L122.77 529.21 L125.21 529.84 L127.64 530.45 L130.07 531.05 L132.50 531.63 L134.93 532.20 L137.36 532.76 L139.80 533.31 L142.23 533.84 L144.66 534.37 L147.09 534.88 L149.52 535.38 L151.95 535.87 L154.39 536.35 L156.82 536.83 L159.25 537.29 L161.68 537.74 L164.11 538.19 L166.54 538.63 L168.98 539.06 L171.41 539.48 L173.84 539.89 L176.27 540.30 L178.70 540.69 L181.13 541.09 L183.57 541.47 L186.00 541.85 L188.43 542.22 L190.86 542.59 L193.29 542.95 L195.72 543.30 L198.16 543.65 L200.59 543.99 L203.02 544.33 L205.45 544.66 L207.88 544.99 L210.31 545.31 L212.75 545.63 L215.18 545.94 L217.61 546.25 L220.04 546.55 L222.47 546.85 L224.90 547.14 L227.34 547.43 L229.77 547.72 L232.20 548.00" stroke="#a4a4a4" stroke-width="0.9" fill="none"/>
<path d="M86.30 522.20 L88.73 523.04 L91.16 523.86 L93.59 524.65 L96.03 525.42 L98.46 526.17 L100.89 526.89 L103.32 527.60 L105.75 528.29 L108.19 528.96 L110.62 529.61 L113.05 530.25 L115.48 530.87 L117.91 531.47 L120.34 532.06 L122.77 532.63 L125.21 533.20 L127.64 533.75 L130.07 534.28 L132.50 534.81 L134.93 535.32 L137.36 535.82 L139.80 536.31 L142.23 536.79 L144.66 537.26 L147.09 537.72 L149.52 538.18 L151.95 538.62 L154.39 539.05 L156.82 539.48 L159.25 539.90 L161.68 540.30 L164.11 540.71 L166.54 541.10 L168.98 541.49 L171.41 541.87 L173.84 542.24 L176.27 542.61 L178.70 542.97 L181.13 543.32 L183.57 543.67 L186.00 544.02 L188.43 544.35 L190.86 544.68 L193.29 545.01 L195.72 545.33 L198.16 545.65 L200.59 545.96 L203.02 546.26 L205.45 546.56 L207.88 546.86 L210.31 547.15 L212.75 547.44 L215.18 547.72 L217.61 548.00 L220.04 548.28 L222.47 548.55 L224.90 548.82 L227.34 549.08 L229.77 549.34 L232.20 549.60" stroke="#a6a6a6" stroke-width="2.4" fill="none"/>
<path d="M86.30 512.10 L88.73 513.07 L91.16 514.04 L93.59 515.01 L96.03 515.98 L98.46 516.94 L100.89 517.89 L103.32 518.82 L105.75 519.73 L108.19 520.62 L110.62 521.48 L113.05 522.32 L115.48 523.11 L117.91 523.87 L120.34 524.58 L122.77 525.25 L125.21 525.90 L127.64 526.58 L130.07 527.27 L132.50 527.98 L134.93 528.69 L137.36 529.39 L139.80 530.07 L142.23 530.73 L144.66 531.35 L147.09 531.92 L149.52 532.44 L151.95 532.93 L154.39 533.41 L156.82 533.88 L159.25 534.34 L161.68 534.79 L164.11 535.23 L166.54 535.66 L168.98 536.08 L171.41 536.49 L173.84 536.90 L176.27 537.30 L178.70 537.69 L181.13 538.08 L183.57 538.46 L186.00 538.83 L188.43 539.21 L190.86 539.57 L193.29 539.92 L195.72 540.26 L198.16 540.59 L200.59 540.90 L203.02 541.21 L205.45 541.50 L207.88 541.79 L210.31 542.07 L212.75 542.34 L215.18 542.61 L217.61 542.88 L220.04 543.15 L222.47 543.41 L224.90 543.68 L227.34 543.95 L229.77 544.22 L232.20 544.50" stroke="#000" stroke-width="1.4" stroke-dasharray="1.4 2.8" fill="none"/>
<path d="M86.30 517.30 L88.73 518.25 L91.16 519.17 L93.59 520.07 L96.03 520.94 L98.46 521.78 L100.89 522.60 L103.32 523.39 L105.75 524.17 L108.19 524.92 L110.62 525.65 L113.05 526.37 L115.48 527.06 L117.91 527.74 L120.34 528.40 L122.77 529.05 L125.21 529.68 L127.64 530.29 L130.07 530.89 L132.50 531.48 L134.93 532.05 L137.36 532.61 L139.80 533.16 L142.23 533.70 L144.66 534.22 L147.09 534.74 L149.52 535.24 L151.95 535.74 L154.39 536.22 L156.82 536.69 L159.25 537.16 L161.68 537.61 L164.11 538.06 L166.54 538.50 L168.98 538.93 L171.41 539.35 L173.84 539.77 L176.27 540.17 L178.70 540.57 L181.13 540.97 L183.57 541.35 L186.00 541.73 L188.43 542.10 L190.86 542.47 L193.29 542.83 L195.72 543.19 L198.16 543.54 L200.59 543.88 L203.02 544.22 L205.45 544.55 L207.88 544.88 L210.31 545.20 L212.75 545.52 L215.18 545.83 L217.61 546.14 L220.04 546.45 L222.47 546.74 L224.90 547.04 L227.34 547.33 L229.77 547.62 L232.20 547.90" stroke="#000" stroke-width="1.75" fill="none"/>
<path d="M98.25 481.70L99.60 478.80L100.95 481.70Z" fill="#8e8e8e" stroke="#838383" stroke-width="0.4"/>
<path d="M90.95 487.60L92.30 484.70L93.65 487.60Z" fill="#8e8e8e" stroke="#838383" stroke-width="0.4"/>
<path d="M86.55 499.10L87.90 496.20L89.25 499.10Z" fill="#8e8e8e" stroke="#838383" stroke-width="0.4"/>
<path d="M85.25 504.00L86.60 501.10L87.95 504.00Z" fill="#8e8e8e" stroke="#838383" stroke-width="0.4"/>
<path d="M96.45 503.80L97.80 500.90L99.15 503.80Z" fill="#8e8e8e" stroke="#838383" stroke-width="0.4"/>
<path d="M115.15 512.70L116.50 509.80L117.85 512.70Z" fill="#8e8e8e" stroke="#838383" stroke-width="0.4"/>
<path d="M104.95 515.40L106.30 512.50L107.65 515.40Z" fill="#8e8e8e" stroke="#838383" stroke-width="0.4"/>
<path d="M110.05 518.30L111.40 515.40L112.75 518.30Z" fill="#8e8e8e" stroke="#838383" stroke-width="0.4"/>
<path d="M97.45 516.30L98.80 513.40L100.15 516.30Z" fill="#8e8e8e" stroke="#838383" stroke-width="0.4"/>
<path d="M114.65 521.40L116.00 518.50L117.35 521.40Z" fill="#8e8e8e" stroke="#838383" stroke-width="0.4"/>
<path d="M89.65 527.30L91.00 524.40L92.35 527.30Z" fill="#8e8e8e" stroke="#838383" stroke-width="0.4"/>
<path d="M96.75 529.10L98.10 526.20L99.45 529.10Z" fill="#8e8e8e" stroke="#838383" stroke-width="0.4"/>
<path d="M115.15 542.90L116.50 540.00L117.85 542.90Z" fill="#8e8e8e" stroke="#838383" stroke-width="0.4"/>
<path d="M126.35 541.80L127.70 538.90L129.05 541.80Z" fill="#8e8e8e" stroke="#838383" stroke-width="0.4"/>
<path d="M98.25 549.00L99.60 546.10L100.95 549.00Z" fill="#8e8e8e" stroke="#838383" stroke-width="0.4"/>
<path d="M111.05 553.60L112.40 550.70L113.75 553.60Z" fill="#8e8e8e" stroke="#838383" stroke-width="0.4"/>
<path d="M122.65 553.60L124.00 550.70L125.35 553.60Z" fill="#8e8e8e" stroke="#838383" stroke-width="0.4"/>
<path d="M127.95 557.70L129.30 554.80L130.65 557.70Z" fill="#8e8e8e" stroke="#838383" stroke-width="0.4"/>
<path d="M110.05 562.30L111.40 559.40L112.75 562.30Z" fill="#8e8e8e" stroke="#838383" stroke-width="0.4"/>
<path d="M115.15 566.60L116.50 563.70L117.85 566.60Z" fill="#8e8e8e" stroke="#838383" stroke-width="0.4"/>
<path d="M144.05 478.90L145.40 476.00L146.75 478.90Z" fill="#8e8e8e" stroke="#838383" stroke-width="0.4"/>
<path d="M154.55 528.80L155.90 525.90L157.25 528.80Z" fill="#8e8e8e" stroke="#838383" stroke-width="0.4"/>
<path d="M172.45 528.50L173.80 525.60L175.15 528.50Z" fill="#8e8e8e" stroke="#838383" stroke-width="0.4"/>
<path d="M197.05 532.90L198.40 530.00L199.75 532.90Z" fill="#8e8e8e" stroke="#838383" stroke-width="0.4"/>
<path d="M190.85 541.60L192.20 538.70L193.55 541.60Z" fill="#8e8e8e" stroke="#838383" stroke-width="0.4"/>
<path d="M149.45 549.30L150.80 546.40L152.15 549.30Z" fill="#8e8e8e" stroke="#838383" stroke-width="0.4"/>
<path d="M161.25 549.90L162.60 547.00L163.95 549.90Z" fill="#8e8e8e" stroke="#838383" stroke-width="0.4"/>
<path d="M186.75 553.40L188.10 550.50L189.45 553.40Z" fill="#8e8e8e" stroke="#838383" stroke-width="0.4"/>
<path d="M196.15 550.30L197.50 547.40L198.85 550.30Z" fill="#8e8e8e" stroke="#838383" stroke-width="0.4"/>
<path d="M149.45 555.40L150.80 552.50L152.15 555.40Z" fill="#8e8e8e" stroke="#838383" stroke-width="0.4"/>
<path d="M154.55 558.00L155.90 555.10L157.25 558.00Z" fill="#8e8e8e" stroke="#838383" stroke-width="0.4"/>
<path d="M168.35 556.40L169.70 553.50L171.05 556.40Z" fill="#8e8e8e" stroke="#838383" stroke-width="0.4"/>
<path d="M177.05 559.50L178.40 556.60L179.75 559.50Z" fill="#8e8e8e" stroke="#838383" stroke-width="0.4"/>
<path d="M182.95 558.00L184.30 555.10L185.65 558.00Z" fill="#8e8e8e" stroke="#838383" stroke-width="0.4"/>
<path d="M142.35 562.10L143.70 559.20L145.05 562.10Z" fill="#8e8e8e" stroke="#838383" stroke-width="0.4"/>
<path d="M143.85 562.10L145.20 559.20L146.55 562.10Z" fill="#8e8e8e" stroke="#838383" stroke-width="0.4"/>
<path d="M197.05 563.60L198.40 560.70L199.75 563.60Z" fill="#8e8e8e" stroke="#838383" stroke-width="0.4"/>
<path d="M217.15 566.70L218.50 563.80L219.85 566.70Z" fill="#8e8e8e" stroke="#838383" stroke-width="0.4"/>
<path d="M214.25 571.10L215.60 568.20L216.95 571.10Z" fill="#8e8e8e" stroke="#838383" stroke-width="0.4"/>
<circle cx="94.5" cy="532.9" r="1.35" fill="#9a9a9a" stroke="#3a3a3a" stroke-width="0.8"/>
<circle cx="106.8" cy="534.2" r="1.35" fill="#9a9a9a" stroke="#3a3a3a" stroke-width="0.8"/>
<circle cx="112.4" cy="545.7" r="1.35" fill="#9a9a9a" stroke="#3a3a3a" stroke-width="0.8"/>
<circle cx="149.8" cy="521.1" r="1.35" fill="#9a9a9a" stroke="#3a3a3a" stroke-width="0.8"/>
<circle cx="172.8" cy="535.2" r="1.35" fill="#9a9a9a" stroke="#3a3a3a" stroke-width="0.8"/>
<circle cx="99.6" cy="494.8" r="1.55" fill="#000"/>
<circle cx="86.6" cy="500.7" r="1.55" fill="#000"/>
<circle cx="87.6" cy="506.5" r="1.55" fill="#000"/>
<circle cx="92.3" cy="508.1" r="1.55" fill="#000"/>
<circle cx="116.5" cy="506.5" r="1.55" fill="#000"/>
<circle cx="97.8" cy="517" r="1.55" fill="#000"/>
<circle cx="106.3" cy="519.9" r="1.55" fill="#000"/>
<circle cx="111.4" cy="521.1" r="1.55" fill="#000"/>
<circle cx="116.5" cy="523.6" r="1.55" fill="#000"/>
<circle cx="98.6" cy="523.2" r="1.55" fill="#000"/>
<circle cx="116.5" cy="528.3" r="1.55" fill="#000"/>
<circle cx="91" cy="536" r="1.55" fill="#000"/>
<circle cx="105.3" cy="535.4" r="1.55" fill="#000"/>
<circle cx="112.9" cy="539" r="1.55" fill="#000"/>
<circle cx="124" cy="539" r="1.55" fill="#000"/>
<circle cx="128.2" cy="536" r="1.55" fill="#000"/>
<circle cx="115.8" cy="549.2" r="1.55" fill="#000"/>
<circle cx="99.6" cy="550.3" r="1.55" fill="#000"/>
<circle cx="111.4" cy="557.7" r="1.55" fill="#000"/>
<circle cx="116.5" cy="557.7" r="1.55" fill="#000"/>
<circle cx="145.4" cy="489.2" r="1.55" fill="#000"/>
<circle cx="171.8" cy="513.9" r="1.55" fill="#000"/>
<circle cx="174.3" cy="521.4" r="1.55" fill="#000"/>
<circle cx="198.4" cy="522.7" r="1.55" fill="#000"/>
<circle cx="150.8" cy="525.7" r="1.55" fill="#000"/>
<circle cx="150.8" cy="531.1" r="1.55" fill="#000"/>
<circle cx="155.4" cy="529.9" r="1.55" fill="#000"/>
<circle cx="173" cy="530.1" r="1.55" fill="#000"/>
<circle cx="195.1" cy="530.1" r="1.55" fill="#000"/>
<circle cx="196.8" cy="534.2" r="1.55" fill="#000"/>
<circle cx="195.8" cy="535.7" r="1.55" fill="#000"/>
<circle cx="188.1" cy="537.3" r="1.55" fill="#000"/>
<circle cx="143.7" cy="534.7" r="1.55" fill="#000"/>
<circle cx="155.9" cy="537.3" r="1.55" fill="#000"/>
<circle cx="150.8" cy="541.4" r="1.55" fill="#000"/>
<circle cx="170.3" cy="540.3" r="1.55" fill="#000"/>
<circle cx="162.6" cy="550.5" r="1.55" fill="#000"/>
<circle cx="184.3" cy="547.5" r="1.55" fill="#000"/>
<circle cx="198.4" cy="552.1" r="1.55" fill="#000"/>
<circle cx="145.2" cy="554.8" r="1.55" fill="#000"/>
<circle cx="178.4" cy="554.8" r="1.55" fill="#000"/>
<circle cx="217.9" cy="528.4" r="1.55" fill="#000"/>
<circle cx="232" cy="537.3" r="1.55" fill="#000"/>
<circle cx="218.5" cy="551.1" r="1.55" fill="#000"/>
<circle cx="215.6" cy="556.5" r="1.55" fill="#000"/></svg>
</body></html>
